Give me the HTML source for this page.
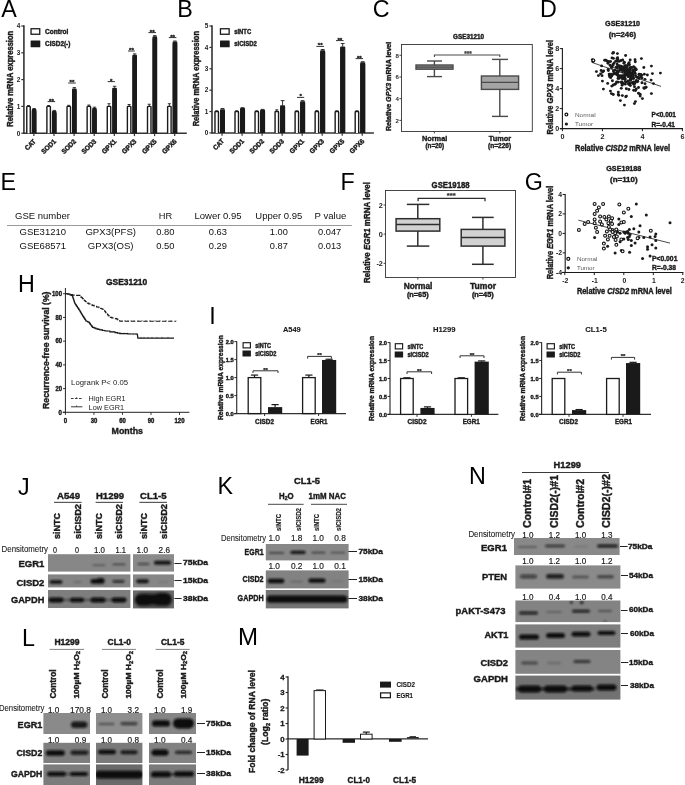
<!DOCTYPE html>
<html lang="en"><head><meta charset="utf-8"><title>Figure</title>
<style>
html,body{margin:0;padding:0;background:#fff;}
body{width:685px;height:785px;overflow:hidden;}
svg{display:block;font-family:"Liberation Sans", Arial, sans-serif;filter:blur(0.35px);}
</style></head><body>
<svg width="685" height="785" viewBox="0 0 685 785">
<rect width="685" height="785" fill="#fff"/>
<g fill="#1a1a1a">
<defs>
<filter id="b1" x="-20%" y="-50%" width="140%" height="200%"><feGaussianBlur stdDeviation="1.1"/></filter>
<filter id="b2" x="-20%" y="-50%" width="140%" height="200%"><feGaussianBlur stdDeviation="0.8"/></filter>
<filter id="b3" x="-20%" y="-50%" width="140%" height="200%"><feGaussianBlur stdDeviation="1.5"/></filter>
</defs>
<g id="A">
<text x="1.20" y="16.90" font-size="23.3" fill="#000">A</text>
<line x1="23.90" y1="25.30" x2="23.90" y2="133.90" stroke="#333" stroke-width="1.6" />
<line x1="23.50" y1="133.20" x2="186.80" y2="133.20" stroke="#333" stroke-width="1.5" />
<line x1="21.30" y1="133.20" x2="23.90" y2="133.20" stroke="#333" stroke-width="1.2" />
<text x="20.20" y="135.50" font-size="6.4" font-weight="bold" text-anchor="end">0</text>
<line x1="21.30" y1="106.40" x2="23.90" y2="106.40" stroke="#333" stroke-width="1.2" />
<text x="20.20" y="108.70" font-size="6.4" font-weight="bold" text-anchor="end">1</text>
<line x1="21.30" y1="79.60" x2="23.90" y2="79.60" stroke="#333" stroke-width="1.2" />
<text x="20.20" y="81.90" font-size="6.4" font-weight="bold" text-anchor="end">2</text>
<line x1="21.30" y1="52.80" x2="23.90" y2="52.80" stroke="#333" stroke-width="1.2" />
<text x="20.20" y="55.10" font-size="6.4" font-weight="bold" text-anchor="end">3</text>
<line x1="21.30" y1="26.00" x2="23.90" y2="26.00" stroke="#333" stroke-width="1.2" />
<text x="20.20" y="28.30" font-size="6.4" font-weight="bold" text-anchor="end">4</text>
<text x="13.20" y="78.80" font-size="8.2" font-weight="bold" text-anchor="middle" transform="rotate(-90 13.20 78.80)" textLength="96.00" lengthAdjust="spacingAndGlyphs" stroke="#1a1a1a" stroke-width="0.4">Relative mRNA expression</text>
<rect x="31.05" y="28.75" width="8.70" height="5.50" fill="#fff" stroke="#1a1a1a" stroke-width="1.3" />
<rect x="30.60" y="40.40" width="9.70" height="6.80" fill="#1a1a1a" rx="0.5"/>
<text x="45.00" y="34.20" font-size="7" font-weight="bold" textLength="23.40" lengthAdjust="spacingAndGlyphs" stroke="#1a1a1a" stroke-width="0.4">Control</text>
<text x="45.00" y="46.40" font-size="7" font-weight="bold" textLength="25.40" lengthAdjust="spacingAndGlyphs" stroke="#1a1a1a" stroke-width="0.4">CISD2(-)</text>
<line x1="28.50" y1="106.40" x2="28.50" y2="105.60" stroke="#1a1a1a" stroke-width="0.9" />
<line x1="27.00" y1="105.60" x2="30.00" y2="105.60" stroke="#1a1a1a" stroke-width="0.9" />
<path d="M26.78 133.20 V107.10 Q26.78 106.40 27.48 106.40 H29.56 Q30.26 106.40 30.26 107.10 V133.20" stroke="#1a1a1a" stroke-width="1.4" fill="#fff" />
<line x1="34.10" y1="109.08" x2="34.10" y2="108.54" stroke="#1a1a1a" stroke-width="0.9" />
<line x1="32.40" y1="108.54" x2="35.80" y2="108.54" stroke="#1a1a1a" stroke-width="0.9" />
<rect x="31.80" y="109.08" width="4.60" height="24.12" fill="#1a1a1a" rx="0.7"/>
<rect x="31.80" y="111.08" width="4.60" height="22.12" fill="#1a1a1a" />
<line x1="33.85" y1="133.20" x2="33.85" y2="136.10" stroke="#333" stroke-width="1.2" />
<text x="36.35" y="141.90" font-size="6.8" font-weight="bold" text-anchor="end" transform="rotate(-45 36.35 141.90)" textLength="12.50" lengthAdjust="spacingAndGlyphs" stroke="#1a1a1a" stroke-width="0.4">CAT</text>
<line x1="48.62" y1="106.40" x2="48.62" y2="105.60" stroke="#1a1a1a" stroke-width="0.9" />
<line x1="47.12" y1="105.60" x2="50.12" y2="105.60" stroke="#1a1a1a" stroke-width="0.9" />
<path d="M46.90 133.20 V107.10 Q46.90 106.40 47.60 106.40 H49.68 Q50.38 106.40 50.38 107.10 V133.20" stroke="#1a1a1a" stroke-width="1.4" fill="#fff" />
<line x1="54.22" y1="110.96" x2="54.22" y2="110.42" stroke="#1a1a1a" stroke-width="0.9" />
<line x1="52.52" y1="110.42" x2="55.92" y2="110.42" stroke="#1a1a1a" stroke-width="0.9" />
<rect x="51.92" y="110.96" width="4.60" height="22.24" fill="#1a1a1a" rx="0.7"/>
<rect x="51.92" y="112.96" width="4.60" height="20.24" fill="#1a1a1a" />
<line x1="53.97" y1="133.20" x2="53.97" y2="136.10" stroke="#333" stroke-width="1.2" />
<text x="56.47" y="141.90" font-size="6.8" font-weight="bold" text-anchor="end" transform="rotate(-45 56.47 141.90)" textLength="17.50" lengthAdjust="spacingAndGlyphs" stroke="#1a1a1a" stroke-width="0.4">SOD1</text>
<line x1="68.74" y1="106.40" x2="68.74" y2="105.33" stroke="#1a1a1a" stroke-width="0.9" />
<line x1="67.24" y1="105.33" x2="70.24" y2="105.33" stroke="#1a1a1a" stroke-width="0.9" />
<path d="M67.02 133.20 V107.10 Q67.02 106.40 67.72 106.40 H69.80 Q70.50 106.40 70.50 107.10 V133.20" stroke="#1a1a1a" stroke-width="1.4" fill="#fff" />
<line x1="74.34" y1="88.44" x2="74.34" y2="87.64" stroke="#1a1a1a" stroke-width="0.9" />
<line x1="72.64" y1="87.64" x2="76.04" y2="87.64" stroke="#1a1a1a" stroke-width="0.9" />
<rect x="72.04" y="88.44" width="4.60" height="44.76" fill="#1a1a1a" rx="0.7"/>
<rect x="72.04" y="90.44" width="4.60" height="42.76" fill="#1a1a1a" />
<line x1="74.09" y1="133.20" x2="74.09" y2="136.10" stroke="#333" stroke-width="1.2" />
<text x="76.59" y="141.90" font-size="6.8" font-weight="bold" text-anchor="end" transform="rotate(-45 76.59 141.90)" textLength="17.50" lengthAdjust="spacingAndGlyphs" stroke="#1a1a1a" stroke-width="0.4">SOD2</text>
<line x1="88.86" y1="106.40" x2="88.86" y2="105.06" stroke="#1a1a1a" stroke-width="0.9" />
<line x1="87.36" y1="105.06" x2="90.36" y2="105.06" stroke="#1a1a1a" stroke-width="0.9" />
<path d="M87.14 133.20 V107.10 Q87.14 106.40 87.84 106.40 H89.92 Q90.62 106.40 90.62 107.10 V133.20" stroke="#1a1a1a" stroke-width="1.4" fill="#fff" />
<line x1="94.46" y1="108.01" x2="94.46" y2="107.20" stroke="#1a1a1a" stroke-width="0.9" />
<line x1="92.76" y1="107.20" x2="96.16" y2="107.20" stroke="#1a1a1a" stroke-width="0.9" />
<rect x="92.16" y="108.01" width="4.60" height="25.19" fill="#1a1a1a" rx="0.7"/>
<rect x="92.16" y="110.01" width="4.60" height="23.19" fill="#1a1a1a" />
<line x1="94.21" y1="133.20" x2="94.21" y2="136.10" stroke="#333" stroke-width="1.2" />
<text x="96.71" y="141.90" font-size="6.8" font-weight="bold" text-anchor="end" transform="rotate(-45 96.71 141.90)" textLength="17.50" lengthAdjust="spacingAndGlyphs" stroke="#1a1a1a" stroke-width="0.4">SOD3</text>
<line x1="108.98" y1="106.40" x2="108.98" y2="103.72" stroke="#1a1a1a" stroke-width="0.9" />
<line x1="107.48" y1="103.72" x2="110.48" y2="103.72" stroke="#1a1a1a" stroke-width="0.9" />
<path d="M107.26 133.20 V107.10 Q107.26 106.40 107.96 106.40 H110.04 Q110.74 106.40 110.74 107.10 V133.20" stroke="#1a1a1a" stroke-width="1.4" fill="#fff" />
<line x1="114.58" y1="87.64" x2="114.58" y2="86.30" stroke="#1a1a1a" stroke-width="0.9" />
<line x1="112.88" y1="86.30" x2="116.28" y2="86.30" stroke="#1a1a1a" stroke-width="0.9" />
<rect x="112.28" y="87.64" width="4.60" height="45.56" fill="#1a1a1a" rx="0.7"/>
<rect x="112.28" y="89.64" width="4.60" height="43.56" fill="#1a1a1a" />
<line x1="114.33" y1="133.20" x2="114.33" y2="136.10" stroke="#333" stroke-width="1.2" />
<text x="116.83" y="141.90" font-size="6.8" font-weight="bold" text-anchor="end" transform="rotate(-45 116.83 141.90)" textLength="17.50" lengthAdjust="spacingAndGlyphs" stroke="#1a1a1a" stroke-width="0.4">GPX1</text>
<line x1="129.10" y1="106.40" x2="129.10" y2="104.52" stroke="#1a1a1a" stroke-width="0.9" />
<line x1="127.60" y1="104.52" x2="130.60" y2="104.52" stroke="#1a1a1a" stroke-width="0.9" />
<path d="M127.38 133.20 V107.10 Q127.38 106.40 128.08 106.40 H130.16 Q130.86 106.40 130.86 107.10 V133.20" stroke="#1a1a1a" stroke-width="1.4" fill="#fff" />
<line x1="134.70" y1="54.68" x2="134.70" y2="53.87" stroke="#1a1a1a" stroke-width="0.9" />
<line x1="133.00" y1="53.87" x2="136.40" y2="53.87" stroke="#1a1a1a" stroke-width="0.9" />
<rect x="132.40" y="54.68" width="4.60" height="78.52" fill="#1a1a1a" rx="0.7"/>
<rect x="132.40" y="56.68" width="4.60" height="76.52" fill="#1a1a1a" />
<line x1="134.45" y1="133.20" x2="134.45" y2="136.10" stroke="#333" stroke-width="1.2" />
<text x="136.95" y="141.90" font-size="6.8" font-weight="bold" text-anchor="end" transform="rotate(-45 136.95 141.90)" textLength="17.50" lengthAdjust="spacingAndGlyphs" stroke="#1a1a1a" stroke-width="0.4">GPX3</text>
<line x1="149.22" y1="106.40" x2="149.22" y2="104.26" stroke="#1a1a1a" stroke-width="0.9" />
<line x1="147.72" y1="104.26" x2="150.72" y2="104.26" stroke="#1a1a1a" stroke-width="0.9" />
<path d="M147.50 133.20 V107.10 Q147.50 106.40 148.20 106.40 H150.28 Q150.98 106.40 150.98 107.10 V133.20" stroke="#1a1a1a" stroke-width="1.4" fill="#fff" />
<line x1="154.82" y1="36.18" x2="154.82" y2="35.65" stroke="#1a1a1a" stroke-width="0.9" />
<line x1="153.12" y1="35.65" x2="156.52" y2="35.65" stroke="#1a1a1a" stroke-width="0.9" />
<rect x="152.52" y="36.18" width="4.60" height="97.02" fill="#1a1a1a" rx="0.7"/>
<rect x="152.52" y="38.18" width="4.60" height="95.02" fill="#1a1a1a" />
<line x1="154.57" y1="133.20" x2="154.57" y2="136.10" stroke="#333" stroke-width="1.2" />
<text x="157.07" y="141.90" font-size="6.8" font-weight="bold" text-anchor="end" transform="rotate(-45 157.07 141.90)" textLength="17.50" lengthAdjust="spacingAndGlyphs" stroke="#1a1a1a" stroke-width="0.4">GPX5</text>
<line x1="169.34" y1="106.40" x2="169.34" y2="103.72" stroke="#1a1a1a" stroke-width="0.9" />
<line x1="167.84" y1="103.72" x2="170.84" y2="103.72" stroke="#1a1a1a" stroke-width="0.9" />
<path d="M167.62 133.20 V107.10 Q167.62 106.40 168.32 106.40 H170.40 Q171.10 106.40 171.10 107.10 V133.20" stroke="#1a1a1a" stroke-width="1.4" fill="#fff" />
<line x1="174.94" y1="41.54" x2="174.94" y2="41.01" stroke="#1a1a1a" stroke-width="0.9" />
<line x1="173.24" y1="41.01" x2="176.64" y2="41.01" stroke="#1a1a1a" stroke-width="0.9" />
<rect x="172.64" y="41.54" width="4.60" height="91.66" fill="#1a1a1a" rx="0.7"/>
<rect x="172.64" y="43.54" width="4.60" height="89.66" fill="#1a1a1a" />
<line x1="174.69" y1="133.20" x2="174.69" y2="136.10" stroke="#333" stroke-width="1.2" />
<text x="177.19" y="141.90" font-size="6.8" font-weight="bold" text-anchor="end" transform="rotate(-45 177.19 141.90)" textLength="17.50" lengthAdjust="spacingAndGlyphs" stroke="#1a1a1a" stroke-width="0.4">GPX6</text>
<line x1="47.60" y1="101.60" x2="55.20" y2="101.60" stroke="#1a1a1a" stroke-width="0.9" />
<text x="51.40" y="102.50" font-size="6.2" font-weight="bold" text-anchor="middle" stroke="#1a1a1a" stroke-width="0.3">**</text>
<line x1="68.20" y1="83.00" x2="75.80" y2="83.00" stroke="#1a1a1a" stroke-width="0.9" />
<text x="72.00" y="83.90" font-size="6.2" font-weight="bold" text-anchor="middle" stroke="#1a1a1a" stroke-width="0.3">**</text>
<line x1="107.60" y1="81.60" x2="114.80" y2="81.60" stroke="#1a1a1a" stroke-width="0.9" />
<text x="111.20" y="82.50" font-size="6.2" font-weight="bold" text-anchor="middle" stroke="#1a1a1a" stroke-width="0.3">*</text>
<line x1="128.00" y1="51.00" x2="134.80" y2="51.00" stroke="#1a1a1a" stroke-width="0.9" />
<text x="131.40" y="51.90" font-size="6.2" font-weight="bold" text-anchor="middle" stroke="#1a1a1a" stroke-width="0.3">**</text>
<line x1="148.40" y1="32.60" x2="156.00" y2="32.60" stroke="#1a1a1a" stroke-width="0.9" />
<text x="152.20" y="33.50" font-size="6.2" font-weight="bold" text-anchor="middle" stroke="#1a1a1a" stroke-width="0.3">**</text>
<line x1="168.80" y1="37.60" x2="176.40" y2="37.60" stroke="#1a1a1a" stroke-width="0.9" />
<text x="172.60" y="38.50" font-size="6.2" font-weight="bold" text-anchor="middle" stroke="#1a1a1a" stroke-width="0.3">**</text>
</g>
<g id="B">
<text x="177.20" y="17.00" font-size="23.3" fill="#000">B</text>
<line x1="212.00" y1="25.30" x2="212.00" y2="133.60" stroke="#333" stroke-width="1.6" />
<line x1="211.60" y1="132.90" x2="373.90" y2="132.90" stroke="#333" stroke-width="1.5" />
<line x1="209.40" y1="132.90" x2="212.00" y2="132.90" stroke="#333" stroke-width="1.2" />
<text x="208.30" y="135.20" font-size="6.4" font-weight="bold" text-anchor="end">0</text>
<line x1="209.40" y1="111.53" x2="212.00" y2="111.53" stroke="#333" stroke-width="1.2" />
<text x="208.30" y="113.83" font-size="6.4" font-weight="bold" text-anchor="end">1</text>
<line x1="209.40" y1="90.16" x2="212.00" y2="90.16" stroke="#333" stroke-width="1.2" />
<text x="208.30" y="92.46" font-size="6.4" font-weight="bold" text-anchor="end">2</text>
<line x1="209.40" y1="68.79" x2="212.00" y2="68.79" stroke="#333" stroke-width="1.2" />
<text x="208.30" y="71.09" font-size="6.4" font-weight="bold" text-anchor="end">3</text>
<line x1="209.40" y1="47.42" x2="212.00" y2="47.42" stroke="#333" stroke-width="1.2" />
<text x="208.30" y="49.72" font-size="6.4" font-weight="bold" text-anchor="end">4</text>
<line x1="209.40" y1="26.05" x2="212.00" y2="26.05" stroke="#333" stroke-width="1.2" />
<text x="208.30" y="28.35" font-size="6.4" font-weight="bold" text-anchor="end">5</text>
<text x="198.60" y="78.65" font-size="8.2" font-weight="bold" text-anchor="middle" transform="rotate(-90 198.60 78.65)" textLength="95.40" lengthAdjust="spacingAndGlyphs" stroke="#1a1a1a" stroke-width="0.4">Relative mRNA expression</text>
<rect x="220.45" y="28.75" width="8.70" height="5.50" fill="#fff" stroke="#1a1a1a" stroke-width="1.3" />
<rect x="220.00" y="40.40" width="9.70" height="6.80" fill="#1a1a1a" rx="0.5"/>
<text x="234.20" y="34.20" font-size="7" font-weight="bold" textLength="17.00" lengthAdjust="spacingAndGlyphs" stroke="#1a1a1a" stroke-width="0.4">siNTC</text>
<text x="234.20" y="46.40" font-size="7" font-weight="bold" textLength="22.60" lengthAdjust="spacingAndGlyphs" stroke="#1a1a1a" stroke-width="0.4">siCISD2</text>
<line x1="216.70" y1="111.53" x2="216.70" y2="110.89" stroke="#1a1a1a" stroke-width="0.9" />
<line x1="215.20" y1="110.89" x2="218.20" y2="110.89" stroke="#1a1a1a" stroke-width="0.9" />
<path d="M214.98 132.90 V112.23 Q214.98 111.53 215.68 111.53 H217.76 Q218.46 111.53 218.46 112.23 V132.90" stroke="#1a1a1a" stroke-width="1.4" fill="#fff" />
<line x1="222.50" y1="109.18" x2="222.50" y2="108.54" stroke="#1a1a1a" stroke-width="0.9" />
<line x1="220.60" y1="108.54" x2="224.40" y2="108.54" stroke="#1a1a1a" stroke-width="0.9" />
<rect x="220.00" y="109.18" width="5.00" height="23.72" fill="#1a1a1a" rx="0.7"/>
<rect x="220.00" y="111.18" width="5.00" height="21.72" fill="#1a1a1a" />
<line x1="222.05" y1="132.90" x2="222.05" y2="135.80" stroke="#333" stroke-width="1.2" />
<text x="224.55" y="141.60" font-size="6.8" font-weight="bold" text-anchor="end" transform="rotate(-45 224.55 141.60)" textLength="12.50" lengthAdjust="spacingAndGlyphs" stroke="#1a1a1a" stroke-width="0.4">CAT</text>
<line x1="236.73" y1="111.53" x2="236.73" y2="110.89" stroke="#1a1a1a" stroke-width="0.9" />
<line x1="235.23" y1="110.89" x2="238.23" y2="110.89" stroke="#1a1a1a" stroke-width="0.9" />
<path d="M235.01 132.90 V112.23 Q235.01 111.53 235.71 111.53 H237.79 Q238.49 111.53 238.49 112.23 V132.90" stroke="#1a1a1a" stroke-width="1.4" fill="#fff" />
<line x1="242.53" y1="108.11" x2="242.53" y2="107.68" stroke="#1a1a1a" stroke-width="0.9" />
<line x1="240.63" y1="107.68" x2="244.43" y2="107.68" stroke="#1a1a1a" stroke-width="0.9" />
<rect x="240.03" y="108.11" width="5.00" height="24.79" fill="#1a1a1a" rx="0.7"/>
<rect x="240.03" y="110.11" width="5.00" height="22.79" fill="#1a1a1a" />
<line x1="242.08" y1="132.90" x2="242.08" y2="135.80" stroke="#333" stroke-width="1.2" />
<text x="244.58" y="141.60" font-size="6.8" font-weight="bold" text-anchor="end" transform="rotate(-45 244.58 141.60)" textLength="17.50" lengthAdjust="spacingAndGlyphs" stroke="#1a1a1a" stroke-width="0.4">SOD1</text>
<line x1="256.76" y1="111.53" x2="256.76" y2="110.89" stroke="#1a1a1a" stroke-width="0.9" />
<line x1="255.26" y1="110.89" x2="258.26" y2="110.89" stroke="#1a1a1a" stroke-width="0.9" />
<path d="M255.04 132.90 V112.23 Q255.04 111.53 255.74 111.53 H257.82 Q258.52 111.53 258.52 112.23 V132.90" stroke="#1a1a1a" stroke-width="1.4" fill="#fff" />
<line x1="262.56" y1="109.82" x2="262.56" y2="109.39" stroke="#1a1a1a" stroke-width="0.9" />
<line x1="260.66" y1="109.39" x2="264.46" y2="109.39" stroke="#1a1a1a" stroke-width="0.9" />
<rect x="260.06" y="109.82" width="5.00" height="23.08" fill="#1a1a1a" rx="0.7"/>
<rect x="260.06" y="111.82" width="5.00" height="21.08" fill="#1a1a1a" />
<line x1="262.11" y1="132.90" x2="262.11" y2="135.80" stroke="#333" stroke-width="1.2" />
<text x="264.61" y="141.60" font-size="6.8" font-weight="bold" text-anchor="end" transform="rotate(-45 264.61 141.60)" textLength="17.50" lengthAdjust="spacingAndGlyphs" stroke="#1a1a1a" stroke-width="0.4">SOD2</text>
<line x1="276.79" y1="111.53" x2="276.79" y2="109.82" stroke="#1a1a1a" stroke-width="0.9" />
<line x1="275.29" y1="109.82" x2="278.29" y2="109.82" stroke="#1a1a1a" stroke-width="0.9" />
<path d="M275.07 132.90 V112.23 Q275.07 111.53 275.77 111.53 H277.85 Q278.55 111.53 278.55 112.23 V132.90" stroke="#1a1a1a" stroke-width="1.4" fill="#fff" />
<line x1="282.59" y1="105.33" x2="282.59" y2="100.63" stroke="#1a1a1a" stroke-width="0.9" />
<line x1="280.69" y1="100.63" x2="284.49" y2="100.63" stroke="#1a1a1a" stroke-width="0.9" />
<rect x="280.09" y="105.33" width="5.00" height="27.57" fill="#1a1a1a" rx="0.7"/>
<rect x="280.09" y="107.33" width="5.00" height="25.57" fill="#1a1a1a" />
<line x1="282.14" y1="132.90" x2="282.14" y2="135.80" stroke="#333" stroke-width="1.2" />
<text x="284.64" y="141.60" font-size="6.8" font-weight="bold" text-anchor="end" transform="rotate(-45 284.64 141.60)" textLength="17.50" lengthAdjust="spacingAndGlyphs" stroke="#1a1a1a" stroke-width="0.4">SOD3</text>
<line x1="296.82" y1="111.53" x2="296.82" y2="110.89" stroke="#1a1a1a" stroke-width="0.9" />
<line x1="295.32" y1="110.89" x2="298.32" y2="110.89" stroke="#1a1a1a" stroke-width="0.9" />
<path d="M295.10 132.90 V112.23 Q295.10 111.53 295.80 111.53 H297.88 Q298.58 111.53 298.58 112.23 V132.90" stroke="#1a1a1a" stroke-width="1.4" fill="#fff" />
<line x1="302.62" y1="101.27" x2="302.62" y2="100.63" stroke="#1a1a1a" stroke-width="0.9" />
<line x1="300.72" y1="100.63" x2="304.52" y2="100.63" stroke="#1a1a1a" stroke-width="0.9" />
<rect x="300.12" y="101.27" width="5.00" height="31.63" fill="#1a1a1a" rx="0.7"/>
<rect x="300.12" y="103.27" width="5.00" height="29.63" fill="#1a1a1a" />
<line x1="302.17" y1="132.90" x2="302.17" y2="135.80" stroke="#333" stroke-width="1.2" />
<text x="304.67" y="141.60" font-size="6.8" font-weight="bold" text-anchor="end" transform="rotate(-45 304.67 141.60)" textLength="17.50" lengthAdjust="spacingAndGlyphs" stroke="#1a1a1a" stroke-width="0.4">GPX1</text>
<line x1="316.85" y1="111.53" x2="316.85" y2="110.68" stroke="#1a1a1a" stroke-width="0.9" />
<line x1="315.35" y1="110.68" x2="318.35" y2="110.68" stroke="#1a1a1a" stroke-width="0.9" />
<path d="M315.13 132.90 V112.23 Q315.13 111.53 315.83 111.53 H317.91 Q318.61 111.53 318.61 112.23 V132.90" stroke="#1a1a1a" stroke-width="1.4" fill="#fff" />
<line x1="322.65" y1="50.20" x2="322.65" y2="49.56" stroke="#1a1a1a" stroke-width="0.9" />
<line x1="320.75" y1="49.56" x2="324.55" y2="49.56" stroke="#1a1a1a" stroke-width="0.9" />
<rect x="320.15" y="50.20" width="5.00" height="82.70" fill="#1a1a1a" rx="0.7"/>
<rect x="320.15" y="52.20" width="5.00" height="80.70" fill="#1a1a1a" />
<line x1="322.20" y1="132.90" x2="322.20" y2="135.80" stroke="#333" stroke-width="1.2" />
<text x="324.70" y="141.60" font-size="6.8" font-weight="bold" text-anchor="end" transform="rotate(-45 324.70 141.60)" textLength="17.50" lengthAdjust="spacingAndGlyphs" stroke="#1a1a1a" stroke-width="0.4">GPX3</text>
<line x1="336.88" y1="111.53" x2="336.88" y2="110.89" stroke="#1a1a1a" stroke-width="0.9" />
<line x1="335.38" y1="110.89" x2="338.38" y2="110.89" stroke="#1a1a1a" stroke-width="0.9" />
<path d="M335.16 132.90 V112.23 Q335.16 111.53 335.86 111.53 H337.94 Q338.64 111.53 338.64 112.23 V132.90" stroke="#1a1a1a" stroke-width="1.4" fill="#fff" />
<line x1="342.68" y1="46.57" x2="342.68" y2="43.57" stroke="#1a1a1a" stroke-width="0.9" />
<line x1="340.78" y1="43.57" x2="344.58" y2="43.57" stroke="#1a1a1a" stroke-width="0.9" />
<rect x="340.18" y="46.57" width="5.00" height="86.33" fill="#1a1a1a" rx="0.7"/>
<rect x="340.18" y="48.57" width="5.00" height="84.33" fill="#1a1a1a" />
<line x1="342.23" y1="132.90" x2="342.23" y2="135.80" stroke="#333" stroke-width="1.2" />
<text x="344.73" y="141.60" font-size="6.8" font-weight="bold" text-anchor="end" transform="rotate(-45 344.73 141.60)" textLength="17.50" lengthAdjust="spacingAndGlyphs" stroke="#1a1a1a" stroke-width="0.4">GPX5</text>
<line x1="356.91" y1="111.53" x2="356.91" y2="110.89" stroke="#1a1a1a" stroke-width="0.9" />
<line x1="355.41" y1="110.89" x2="358.41" y2="110.89" stroke="#1a1a1a" stroke-width="0.9" />
<path d="M355.19 132.90 V112.23 Q355.19 111.53 355.89 111.53 H357.97 Q358.67 111.53 358.67 112.23 V132.90" stroke="#1a1a1a" stroke-width="1.4" fill="#fff" />
<line x1="362.71" y1="62.17" x2="362.71" y2="61.74" stroke="#1a1a1a" stroke-width="0.9" />
<line x1="360.81" y1="61.74" x2="364.61" y2="61.74" stroke="#1a1a1a" stroke-width="0.9" />
<rect x="360.21" y="62.17" width="5.00" height="70.73" fill="#1a1a1a" rx="0.7"/>
<rect x="360.21" y="64.17" width="5.00" height="68.73" fill="#1a1a1a" />
<line x1="362.26" y1="132.90" x2="362.26" y2="135.80" stroke="#333" stroke-width="1.2" />
<text x="364.76" y="141.60" font-size="6.8" font-weight="bold" text-anchor="end" transform="rotate(-45 364.76 141.60)" textLength="17.50" lengthAdjust="spacingAndGlyphs" stroke="#1a1a1a" stroke-width="0.4">GPX6</text>
<line x1="297.00" y1="97.40" x2="304.20" y2="97.40" stroke="#1a1a1a" stroke-width="0.9" />
<text x="300.60" y="98.30" font-size="6.2" font-weight="bold" text-anchor="middle" stroke="#1a1a1a" stroke-width="0.3">*</text>
<line x1="316.40" y1="46.40" x2="324.00" y2="46.40" stroke="#1a1a1a" stroke-width="0.9" />
<text x="320.20" y="47.30" font-size="6.2" font-weight="bold" text-anchor="middle" stroke="#1a1a1a" stroke-width="0.3">**</text>
<line x1="336.00" y1="40.60" x2="343.60" y2="40.60" stroke="#1a1a1a" stroke-width="0.9" />
<text x="339.80" y="41.50" font-size="6.2" font-weight="bold" text-anchor="middle" stroke="#1a1a1a" stroke-width="0.3">**</text>
<line x1="355.60" y1="58.60" x2="363.00" y2="58.60" stroke="#1a1a1a" stroke-width="0.9" />
<text x="359.30" y="59.50" font-size="6.2" font-weight="bold" text-anchor="middle" stroke="#1a1a1a" stroke-width="0.3">**</text>
</g>
<g id="C">
<text x="372.80" y="17.00" font-size="23.3" fill="#000">C</text>
<rect x="401.50" y="44.50" width="130.80" height="87.00" fill="none" stroke="#333" stroke-width="0.9" />
<line x1="399.40" y1="55.30" x2="401.50" y2="55.30" stroke="#333" stroke-width="0.9" />
<text x="398.80" y="57.50" font-size="6.1" font-weight="bold" text-anchor="end" fill="#2a2a2a">8</text>
<line x1="399.40" y1="77.00" x2="401.50" y2="77.00" stroke="#333" stroke-width="0.9" />
<text x="398.80" y="79.20" font-size="6.1" font-weight="bold" text-anchor="end" fill="#2a2a2a">6</text>
<line x1="399.40" y1="98.70" x2="401.50" y2="98.70" stroke="#333" stroke-width="0.9" />
<text x="398.80" y="100.90" font-size="6.1" font-weight="bold" text-anchor="end" fill="#2a2a2a">4</text>
<line x1="399.40" y1="120.40" x2="401.50" y2="120.40" stroke="#333" stroke-width="0.9" />
<text x="398.80" y="122.60" font-size="6.1" font-weight="bold" text-anchor="end" fill="#2a2a2a">2</text>
<text x="391.20" y="86.40" font-size="8" font-weight="bold" text-anchor="middle" transform="rotate(-90 391.20 86.40)" textLength="89.40" lengthAdjust="spacingAndGlyphs" stroke="#1a1a1a" stroke-width="0.4">Relative <tspan font-style="italic">GPX3</tspan> mRNA level</text>
<text x="468.50" y="39.20" font-size="6.6" font-weight="bold" text-anchor="middle" textLength="31.00" lengthAdjust="spacingAndGlyphs" stroke="#1a1a1a" stroke-width="0.4">GSE31210</text>
<line x1="434.40" y1="61.00" x2="434.40" y2="76.60" stroke="#4a4a4a" stroke-width="1.4" />
<line x1="427.00" y1="61.00" x2="442.00" y2="61.00" stroke="#4a4a4a" stroke-width="1.4" />
<line x1="427.00" y1="76.60" x2="442.00" y2="76.60" stroke="#4a4a4a" stroke-width="1.4" />
<rect x="416.00" y="65.00" width="37.00" height="4.20" fill="#8c8c8c" stroke="#4a4a4a" stroke-width="1.4" />
<line x1="416.00" y1="67.10" x2="453.00" y2="67.10" stroke="#4a4a4a" stroke-width="1.4" />
<line x1="499.80" y1="59.40" x2="499.80" y2="116.40" stroke="#4a4a4a" stroke-width="1.4" />
<line x1="492.00" y1="59.40" x2="508.00" y2="59.40" stroke="#4a4a4a" stroke-width="1.4" />
<line x1="492.00" y1="116.40" x2="508.00" y2="116.40" stroke="#4a4a4a" stroke-width="1.4" />
<rect x="481.40" y="76.00" width="37.20" height="13.40" fill="#a4a4a4" stroke="#4a4a4a" stroke-width="1.4" />
<line x1="481.40" y1="82.40" x2="518.60" y2="82.40" stroke="#4a4a4a" stroke-width="1.4" />
<path d="M434.4 57 V55 H499.8 V57" stroke="#4a4a4a" stroke-width="1.1" fill="none" />
<text x="468.00" y="55.60" font-size="6.4" font-weight="bold" text-anchor="middle" fill="#3a3a3a" stroke="#3a3a3a" stroke-width="0.2">***</text>
<line x1="434.40" y1="131.40" x2="434.40" y2="133.40" stroke="#3a3a3a" stroke-width="0.9" />
<line x1="499.80" y1="131.40" x2="499.80" y2="133.40" stroke="#3a3a3a" stroke-width="0.9" />
<text x="434.60" y="140.60" font-size="8" font-weight="bold" text-anchor="middle" textLength="25.40" lengthAdjust="spacingAndGlyphs" stroke="#1a1a1a" stroke-width="0.4">Normal</text>
<text x="434.80" y="147.80" font-size="6.6" font-weight="bold" text-anchor="middle" textLength="18.60" lengthAdjust="spacingAndGlyphs" stroke="#1a1a1a" stroke-width="0.4">(n=20)</text>
<text x="500.00" y="140.60" font-size="8" font-weight="bold" text-anchor="middle" textLength="22.40" lengthAdjust="spacingAndGlyphs" stroke="#1a1a1a" stroke-width="0.4">Tumor</text>
<text x="499.60" y="147.80" font-size="6.6" font-weight="bold" text-anchor="middle" textLength="23.00" lengthAdjust="spacingAndGlyphs" stroke="#1a1a1a" stroke-width="0.4">(n=226)</text>
</g>
<g id="D">
<text x="540.10" y="17.00" font-size="23.3" fill="#000">D</text>
<line x1="562.40" y1="48.10" x2="562.40" y2="129.10" stroke="#1a1a1a" stroke-width="1.1" />
<line x1="560.00" y1="128.60" x2="683.00" y2="128.60" stroke="#1a1a1a" stroke-width="1.1" />
<line x1="559.80" y1="128.60" x2="562.40" y2="128.60" stroke="#1a1a1a" stroke-width="1" />
<text x="559.20" y="131.10" font-size="7.2" font-weight="bold" text-anchor="end">0</text>
<line x1="559.80" y1="108.60" x2="562.40" y2="108.60" stroke="#1a1a1a" stroke-width="1" />
<text x="559.20" y="111.10" font-size="7.2" font-weight="bold" text-anchor="end">2</text>
<line x1="559.80" y1="88.60" x2="562.40" y2="88.60" stroke="#1a1a1a" stroke-width="1" />
<text x="559.20" y="91.10" font-size="7.2" font-weight="bold" text-anchor="end">4</text>
<line x1="559.80" y1="68.60" x2="562.40" y2="68.60" stroke="#1a1a1a" stroke-width="1" />
<text x="559.20" y="71.10" font-size="7.2" font-weight="bold" text-anchor="end">6</text>
<line x1="559.80" y1="48.60" x2="562.40" y2="48.60" stroke="#1a1a1a" stroke-width="1" />
<text x="559.20" y="51.10" font-size="7.2" font-weight="bold" text-anchor="end">8</text>
<line x1="562.40" y1="128.60" x2="562.40" y2="131.20" stroke="#1a1a1a" stroke-width="1" />
<text x="562.40" y="139.20" font-size="7.2" font-weight="bold" text-anchor="middle">0</text>
<line x1="602.40" y1="128.60" x2="602.40" y2="131.20" stroke="#1a1a1a" stroke-width="1" />
<text x="602.40" y="139.20" font-size="7.2" font-weight="bold" text-anchor="middle">2</text>
<line x1="642.40" y1="128.60" x2="642.40" y2="131.20" stroke="#1a1a1a" stroke-width="1" />
<text x="642.40" y="139.20" font-size="7.2" font-weight="bold" text-anchor="middle">4</text>
<line x1="682.40" y1="128.60" x2="682.40" y2="131.20" stroke="#1a1a1a" stroke-width="1" />
<text x="682.40" y="139.20" font-size="7.2" font-weight="bold" text-anchor="middle">6</text>
<text x="552.80" y="87.20" font-size="8.6" font-weight="bold" text-anchor="middle" transform="rotate(-90 552.80 87.20)" textLength="94.40" lengthAdjust="spacingAndGlyphs" stroke="#1a1a1a" stroke-width="0.4">Relative <tspan font-style="italic">GPX3</tspan> mRNA level</text>
<text x="622.60" y="26.20" font-size="8" font-weight="bold" text-anchor="middle" textLength="35.00" lengthAdjust="spacingAndGlyphs" stroke="#1a1a1a" stroke-width="0.4">GSE31210</text>
<text x="622.40" y="36.80" font-size="8" font-weight="bold" text-anchor="middle" textLength="27.40" lengthAdjust="spacingAndGlyphs" stroke="#1a1a1a" stroke-width="0.4">(n=246)</text>
<text x="622.60" y="151.00" font-size="8.6" font-weight="bold" text-anchor="middle" textLength="95.00" lengthAdjust="spacingAndGlyphs" stroke="#1a1a1a" stroke-width="0.4">Relative <tspan font-style="italic">CISD2</tspan> mRNA level</text>
<text x="651.60" y="117.20" font-size="7.4" font-weight="bold" textLength="24.40" lengthAdjust="spacingAndGlyphs" stroke="#1a1a1a" stroke-width="0.4">P&lt;0.001</text>
<text x="651.60" y="126.60" font-size="7.4" font-weight="bold" textLength="23.40" lengthAdjust="spacingAndGlyphs" stroke="#1a1a1a" stroke-width="0.4">R=-0.41</text>
<circle cx="566.40" cy="114.60" r="1.4" fill="#fff" stroke="#111" stroke-width="1.2"/>
<circle cx="566.40" cy="124.00" r="1.6" fill="#1a1a1a"/>
<text x="575.00" y="116.60" font-size="6" fill="#5a5a5a" textLength="20.60" lengthAdjust="spacingAndGlyphs">Normal</text>
<text x="575.00" y="125.80" font-size="6" fill="#5a5a5a" textLength="18.00" lengthAdjust="spacingAndGlyphs">Tumor</text>
<circle cx="613.12" cy="65.09" r="1.45" fill="#1a1a1a"/>
<circle cx="631.76" cy="76.22" r="1.45" fill="#1a1a1a"/>
<circle cx="612.24" cy="67.25" r="1.45" fill="#1a1a1a"/>
<circle cx="627.42" cy="65.85" r="1.45" fill="#1a1a1a"/>
<circle cx="613.19" cy="74.37" r="1.45" fill="#1a1a1a"/>
<circle cx="629.33" cy="69.94" r="1.45" fill="#1a1a1a"/>
<circle cx="636.28" cy="69.44" r="1.45" fill="#1a1a1a"/>
<circle cx="622.55" cy="71.83" r="1.45" fill="#1a1a1a"/>
<circle cx="644.99" cy="79.37" r="1.45" fill="#1a1a1a"/>
<circle cx="616.81" cy="74.71" r="1.45" fill="#1a1a1a"/>
<circle cx="624.20" cy="70.06" r="1.45" fill="#1a1a1a"/>
<circle cx="620.50" cy="69.98" r="1.45" fill="#1a1a1a"/>
<circle cx="625.69" cy="67.53" r="1.45" fill="#1a1a1a"/>
<circle cx="632.61" cy="72.50" r="1.45" fill="#1a1a1a"/>
<circle cx="608.37" cy="61.72" r="1.45" fill="#1a1a1a"/>
<circle cx="611.47" cy="67.59" r="1.45" fill="#1a1a1a"/>
<circle cx="611.02" cy="66.48" r="1.45" fill="#1a1a1a"/>
<circle cx="616.86" cy="67.24" r="1.45" fill="#1a1a1a"/>
<circle cx="651.12" cy="80.08" r="1.45" fill="#1a1a1a"/>
<circle cx="630.48" cy="80.28" r="1.45" fill="#1a1a1a"/>
<circle cx="620.98" cy="66.13" r="1.45" fill="#1a1a1a"/>
<circle cx="622.62" cy="68.29" r="1.45" fill="#1a1a1a"/>
<circle cx="624.27" cy="76.46" r="1.45" fill="#1a1a1a"/>
<circle cx="628.14" cy="76.67" r="1.45" fill="#1a1a1a"/>
<circle cx="639.12" cy="78.62" r="1.45" fill="#1a1a1a"/>
<circle cx="629.16" cy="72.50" r="1.45" fill="#1a1a1a"/>
<circle cx="631.40" cy="76.59" r="1.45" fill="#1a1a1a"/>
<circle cx="631.79" cy="74.07" r="1.45" fill="#1a1a1a"/>
<circle cx="634.01" cy="70.67" r="1.45" fill="#1a1a1a"/>
<circle cx="624.59" cy="75.31" r="1.45" fill="#1a1a1a"/>
<circle cx="629.85" cy="70.15" r="1.45" fill="#1a1a1a"/>
<circle cx="637.19" cy="77.27" r="1.45" fill="#1a1a1a"/>
<circle cx="628.06" cy="69.34" r="1.45" fill="#1a1a1a"/>
<circle cx="625.78" cy="70.24" r="1.45" fill="#1a1a1a"/>
<circle cx="624.93" cy="74.42" r="1.45" fill="#1a1a1a"/>
<circle cx="614.88" cy="69.96" r="1.45" fill="#1a1a1a"/>
<circle cx="628.36" cy="63.88" r="1.45" fill="#1a1a1a"/>
<circle cx="631.61" cy="67.49" r="1.45" fill="#1a1a1a"/>
<circle cx="629.93" cy="68.90" r="1.45" fill="#1a1a1a"/>
<circle cx="624.94" cy="66.84" r="1.45" fill="#1a1a1a"/>
<circle cx="638.30" cy="77.36" r="1.45" fill="#1a1a1a"/>
<circle cx="617.57" cy="57.81" r="1.45" fill="#1a1a1a"/>
<circle cx="625.46" cy="65.91" r="1.45" fill="#1a1a1a"/>
<circle cx="630.74" cy="79.33" r="1.45" fill="#1a1a1a"/>
<circle cx="643.84" cy="67.56" r="1.45" fill="#1a1a1a"/>
<circle cx="624.89" cy="66.93" r="1.45" fill="#1a1a1a"/>
<circle cx="624.47" cy="75.85" r="1.45" fill="#1a1a1a"/>
<circle cx="622.46" cy="68.22" r="1.45" fill="#1a1a1a"/>
<circle cx="632.77" cy="69.79" r="1.45" fill="#1a1a1a"/>
<circle cx="623.90" cy="63.26" r="1.45" fill="#1a1a1a"/>
<circle cx="617.01" cy="64.09" r="1.45" fill="#1a1a1a"/>
<circle cx="632.74" cy="75.32" r="1.45" fill="#1a1a1a"/>
<circle cx="608.36" cy="70.62" r="1.45" fill="#1a1a1a"/>
<circle cx="625.39" cy="68.34" r="1.45" fill="#1a1a1a"/>
<circle cx="636.40" cy="80.48" r="1.45" fill="#1a1a1a"/>
<circle cx="623.42" cy="67.01" r="1.45" fill="#1a1a1a"/>
<circle cx="622.08" cy="83.28" r="1.45" fill="#1a1a1a"/>
<circle cx="630.17" cy="60.05" r="1.45" fill="#1a1a1a"/>
<circle cx="631.84" cy="78.48" r="1.45" fill="#1a1a1a"/>
<circle cx="619.94" cy="68.22" r="1.45" fill="#1a1a1a"/>
<circle cx="644.31" cy="74.13" r="1.45" fill="#1a1a1a"/>
<circle cx="624.35" cy="62.29" r="1.45" fill="#1a1a1a"/>
<circle cx="622.71" cy="60.07" r="1.45" fill="#1a1a1a"/>
<circle cx="617.65" cy="71.32" r="1.45" fill="#1a1a1a"/>
<circle cx="629.46" cy="64.72" r="1.45" fill="#1a1a1a"/>
<circle cx="628.89" cy="70.75" r="1.45" fill="#1a1a1a"/>
<circle cx="608.10" cy="69.46" r="1.45" fill="#1a1a1a"/>
<circle cx="618.27" cy="71.85" r="1.45" fill="#1a1a1a"/>
<circle cx="628.33" cy="74.09" r="1.45" fill="#1a1a1a"/>
<circle cx="630.02" cy="72.34" r="1.45" fill="#1a1a1a"/>
<circle cx="620.60" cy="69.02" r="1.45" fill="#1a1a1a"/>
<circle cx="627.00" cy="67.04" r="1.45" fill="#1a1a1a"/>
<circle cx="619.39" cy="70.56" r="1.45" fill="#1a1a1a"/>
<circle cx="611.95" cy="57.92" r="1.45" fill="#1a1a1a"/>
<circle cx="635.59" cy="75.64" r="1.45" fill="#1a1a1a"/>
<circle cx="619.38" cy="76.11" r="1.45" fill="#1a1a1a"/>
<circle cx="624.83" cy="69.93" r="1.45" fill="#1a1a1a"/>
<circle cx="641.73" cy="75.32" r="1.45" fill="#1a1a1a"/>
<circle cx="616.87" cy="81.97" r="1.45" fill="#1a1a1a"/>
<circle cx="635.24" cy="73.48" r="1.45" fill="#1a1a1a"/>
<circle cx="609.88" cy="65.11" r="1.45" fill="#1a1a1a"/>
<circle cx="632.80" cy="70.55" r="1.45" fill="#1a1a1a"/>
<circle cx="621.93" cy="81.96" r="1.45" fill="#1a1a1a"/>
<circle cx="622.34" cy="78.85" r="1.45" fill="#1a1a1a"/>
<circle cx="628.41" cy="84.11" r="1.45" fill="#1a1a1a"/>
<circle cx="615.78" cy="61.32" r="1.45" fill="#1a1a1a"/>
<circle cx="637.21" cy="81.73" r="1.45" fill="#1a1a1a"/>
<circle cx="610.51" cy="61.45" r="1.45" fill="#1a1a1a"/>
<circle cx="630.57" cy="78.44" r="1.45" fill="#1a1a1a"/>
<circle cx="617.57" cy="72.51" r="1.45" fill="#1a1a1a"/>
<circle cx="613.41" cy="71.05" r="1.45" fill="#1a1a1a"/>
<circle cx="633.91" cy="70.27" r="1.45" fill="#1a1a1a"/>
<circle cx="640.68" cy="76.82" r="1.45" fill="#1a1a1a"/>
<circle cx="622.26" cy="75.66" r="1.45" fill="#1a1a1a"/>
<circle cx="622.36" cy="77.52" r="1.45" fill="#1a1a1a"/>
<circle cx="608.47" cy="61.78" r="1.45" fill="#1a1a1a"/>
<circle cx="635.50" cy="69.98" r="1.45" fill="#1a1a1a"/>
<circle cx="634.59" cy="72.92" r="1.45" fill="#1a1a1a"/>
<circle cx="617.37" cy="68.12" r="1.45" fill="#1a1a1a"/>
<circle cx="620.26" cy="75.71" r="1.45" fill="#1a1a1a"/>
<circle cx="609.18" cy="74.09" r="1.45" fill="#1a1a1a"/>
<circle cx="623.35" cy="69.75" r="1.45" fill="#1a1a1a"/>
<circle cx="619.41" cy="61.36" r="1.45" fill="#1a1a1a"/>
<circle cx="624.90" cy="67.87" r="1.45" fill="#1a1a1a"/>
<circle cx="633.64" cy="78.54" r="1.45" fill="#1a1a1a"/>
<circle cx="606.85" cy="60.94" r="1.45" fill="#1a1a1a"/>
<circle cx="617.62" cy="61.42" r="1.45" fill="#1a1a1a"/>
<circle cx="626.24" cy="65.97" r="1.45" fill="#1a1a1a"/>
<circle cx="629.81" cy="84.25" r="1.45" fill="#1a1a1a"/>
<circle cx="629.44" cy="76.33" r="1.45" fill="#1a1a1a"/>
<circle cx="617.05" cy="70.90" r="1.45" fill="#1a1a1a"/>
<circle cx="629.85" cy="67.85" r="1.45" fill="#1a1a1a"/>
<circle cx="631.89" cy="82.61" r="1.45" fill="#1a1a1a"/>
<circle cx="618.44" cy="82.10" r="1.45" fill="#1a1a1a"/>
<circle cx="622.54" cy="66.99" r="1.45" fill="#1a1a1a"/>
<circle cx="616.98" cy="67.11" r="1.45" fill="#1a1a1a"/>
<circle cx="625.34" cy="65.67" r="1.45" fill="#1a1a1a"/>
<circle cx="616.50" cy="72.90" r="1.45" fill="#1a1a1a"/>
<circle cx="616.99" cy="58.77" r="1.45" fill="#1a1a1a"/>
<circle cx="632.56" cy="74.33" r="1.45" fill="#1a1a1a"/>
<circle cx="625.30" cy="70.60" r="1.45" fill="#1a1a1a"/>
<circle cx="625.11" cy="72.32" r="1.45" fill="#1a1a1a"/>
<circle cx="620.59" cy="76.62" r="1.45" fill="#1a1a1a"/>
<circle cx="618.01" cy="59.67" r="1.45" fill="#1a1a1a"/>
<circle cx="627.91" cy="71.74" r="1.45" fill="#1a1a1a"/>
<circle cx="621.60" cy="69.65" r="1.45" fill="#1a1a1a"/>
<circle cx="626.37" cy="75.16" r="1.45" fill="#1a1a1a"/>
<circle cx="625.05" cy="69.82" r="1.45" fill="#1a1a1a"/>
<circle cx="617.11" cy="72.88" r="1.45" fill="#1a1a1a"/>
<circle cx="615.01" cy="73.70" r="1.45" fill="#1a1a1a"/>
<circle cx="623.24" cy="83.50" r="1.45" fill="#1a1a1a"/>
<circle cx="617.73" cy="74.39" r="1.45" fill="#1a1a1a"/>
<circle cx="645.00" cy="83.65" r="1.45" fill="#1a1a1a"/>
<circle cx="625.21" cy="84.16" r="1.45" fill="#1a1a1a"/>
<circle cx="625.39" cy="68.57" r="1.45" fill="#1a1a1a"/>
<circle cx="621.25" cy="88.34" r="1.45" fill="#1a1a1a"/>
<circle cx="607.68" cy="83.42" r="1.45" fill="#1a1a1a"/>
<circle cx="605.72" cy="60.12" r="1.45" fill="#1a1a1a"/>
<circle cx="632.94" cy="82.88" r="1.45" fill="#1a1a1a"/>
<circle cx="639.15" cy="74.27" r="1.45" fill="#1a1a1a"/>
<circle cx="612.93" cy="64.49" r="1.45" fill="#1a1a1a"/>
<circle cx="643.76" cy="87.96" r="1.45" fill="#1a1a1a"/>
<circle cx="621.26" cy="82.22" r="1.45" fill="#1a1a1a"/>
<circle cx="622.35" cy="95.60" r="1.45" fill="#1a1a1a"/>
<circle cx="611.78" cy="86.11" r="1.45" fill="#1a1a1a"/>
<circle cx="635.05" cy="59.68" r="1.45" fill="#1a1a1a"/>
<circle cx="600.55" cy="73.87" r="1.45" fill="#1a1a1a"/>
<circle cx="612.75" cy="53.37" r="1.45" fill="#1a1a1a"/>
<circle cx="636.31" cy="89.04" r="1.45" fill="#1a1a1a"/>
<circle cx="642.00" cy="77.94" r="1.45" fill="#1a1a1a"/>
<circle cx="602.05" cy="75.65" r="1.45" fill="#1a1a1a"/>
<circle cx="623.67" cy="77.17" r="1.45" fill="#1a1a1a"/>
<circle cx="629.46" cy="82.77" r="1.45" fill="#1a1a1a"/>
<circle cx="630.36" cy="85.60" r="1.45" fill="#1a1a1a"/>
<circle cx="613.41" cy="58.39" r="1.45" fill="#1a1a1a"/>
<circle cx="633.02" cy="75.96" r="1.45" fill="#1a1a1a"/>
<circle cx="602.52" cy="72.05" r="1.45" fill="#1a1a1a"/>
<circle cx="640.18" cy="96.10" r="1.45" fill="#1a1a1a"/>
<circle cx="644.53" cy="88.28" r="1.45" fill="#1a1a1a"/>
<circle cx="633.68" cy="82.05" r="1.45" fill="#1a1a1a"/>
<circle cx="630.81" cy="67.37" r="1.45" fill="#1a1a1a"/>
<circle cx="621.11" cy="60.45" r="1.45" fill="#1a1a1a"/>
<circle cx="615.20" cy="84.12" r="1.45" fill="#1a1a1a"/>
<circle cx="638.49" cy="93.23" r="1.45" fill="#1a1a1a"/>
<circle cx="621.62" cy="67.37" r="1.45" fill="#1a1a1a"/>
<circle cx="635.29" cy="61.87" r="1.45" fill="#1a1a1a"/>
<circle cx="646.04" cy="87.25" r="1.45" fill="#1a1a1a"/>
<circle cx="618.03" cy="78.54" r="1.45" fill="#1a1a1a"/>
<circle cx="609.42" cy="75.35" r="1.45" fill="#1a1a1a"/>
<circle cx="624.48" cy="79.13" r="1.45" fill="#1a1a1a"/>
<circle cx="645.85" cy="87.08" r="1.45" fill="#1a1a1a"/>
<circle cx="604.66" cy="60.26" r="1.45" fill="#1a1a1a"/>
<circle cx="610.67" cy="77.64" r="1.45" fill="#1a1a1a"/>
<circle cx="625.31" cy="81.44" r="1.45" fill="#1a1a1a"/>
<circle cx="611.75" cy="75.97" r="1.45" fill="#1a1a1a"/>
<circle cx="625.27" cy="66.35" r="1.45" fill="#1a1a1a"/>
<circle cx="639.02" cy="74.61" r="1.45" fill="#1a1a1a"/>
<circle cx="613.92" cy="72.81" r="1.45" fill="#1a1a1a"/>
<circle cx="635.18" cy="67.89" r="1.45" fill="#1a1a1a"/>
<circle cx="634.73" cy="83.48" r="1.45" fill="#1a1a1a"/>
<circle cx="628.01" cy="80.97" r="1.45" fill="#1a1a1a"/>
<circle cx="631.25" cy="72.95" r="1.45" fill="#1a1a1a"/>
<circle cx="622.10" cy="85.20" r="1.45" fill="#1a1a1a"/>
<circle cx="614.07" cy="62.91" r="1.45" fill="#1a1a1a"/>
<circle cx="647.38" cy="75.04" r="1.45" fill="#1a1a1a"/>
<circle cx="640.77" cy="74.48" r="1.45" fill="#1a1a1a"/>
<circle cx="627.36" cy="71.77" r="1.45" fill="#1a1a1a"/>
<circle cx="610.99" cy="75.24" r="1.45" fill="#1a1a1a"/>
<circle cx="615.95" cy="67.34" r="1.45" fill="#1a1a1a"/>
<circle cx="618.35" cy="76.71" r="1.45" fill="#1a1a1a"/>
<circle cx="633.65" cy="66.76" r="1.45" fill="#1a1a1a"/>
<circle cx="615.05" cy="84.14" r="1.45" fill="#1a1a1a"/>
<circle cx="640.15" cy="94.19" r="1.45" fill="#1a1a1a"/>
<circle cx="634.46" cy="86.80" r="1.45" fill="#1a1a1a"/>
<circle cx="625.75" cy="96.75" r="1.45" fill="#1a1a1a"/>
<circle cx="638.53" cy="87.43" r="1.45" fill="#1a1a1a"/>
<circle cx="613.38" cy="52.62" r="1.45" fill="#1a1a1a"/>
<circle cx="633.76" cy="84.29" r="1.45" fill="#1a1a1a"/>
<circle cx="629.08" cy="62.66" r="1.45" fill="#1a1a1a"/>
<circle cx="626.98" cy="73.83" r="1.45" fill="#1a1a1a"/>
<circle cx="635.46" cy="90.62" r="1.45" fill="#1a1a1a"/>
<circle cx="629.41" cy="84.43" r="1.45" fill="#1a1a1a"/>
<circle cx="607.97" cy="63.20" r="1.45" fill="#1a1a1a"/>
<circle cx="637.78" cy="81.28" r="1.45" fill="#1a1a1a"/>
<circle cx="613.24" cy="94.50" r="1.45" fill="#1a1a1a"/>
<circle cx="634.97" cy="82.12" r="1.45" fill="#1a1a1a"/>
<circle cx="601.13" cy="70.50" r="1.45" fill="#1a1a1a"/>
<circle cx="603.67" cy="71.00" r="1.45" fill="#1a1a1a"/>
<circle cx="629.63" cy="75.70" r="1.45" fill="#1a1a1a"/>
<circle cx="630.79" cy="77.97" r="1.45" fill="#1a1a1a"/>
<circle cx="609.62" cy="76.64" r="1.45" fill="#1a1a1a"/>
<circle cx="619.42" cy="78.37" r="1.45" fill="#1a1a1a"/>
<circle cx="631.61" cy="73.64" r="1.45" fill="#1a1a1a"/>
<circle cx="633.66" cy="82.71" r="1.45" fill="#1a1a1a"/>
<circle cx="601.61" cy="65.92" r="1.45" fill="#1a1a1a"/>
<circle cx="619.28" cy="65.70" r="1.45" fill="#1a1a1a"/>
<circle cx="610.93" cy="74.18" r="1.45" fill="#1a1a1a"/>
<circle cx="625.35" cy="78.91" r="1.45" fill="#1a1a1a"/>
<circle cx="618.29" cy="94.45" r="1.45" fill="#1a1a1a"/>
<circle cx="634.58" cy="70.72" r="1.45" fill="#1a1a1a"/>
<circle cx="626.33" cy="88.69" r="1.45" fill="#1a1a1a"/>
<circle cx="630.57" cy="73.84" r="1.45" fill="#1a1a1a"/>
<circle cx="624.66" cy="77.83" r="1.45" fill="#1a1a1a"/>
<circle cx="618.70" cy="95.28" r="1.45" fill="#1a1a1a"/>
<circle cx="616.48" cy="82.57" r="1.45" fill="#1a1a1a"/>
<circle cx="612.42" cy="80.76" r="1.45" fill="#1a1a1a"/>
<circle cx="625.62" cy="55.43" r="1.45" fill="#1a1a1a"/>
<circle cx="626.45" cy="96.09" r="1.45" fill="#1a1a1a"/>
<circle cx="633.69" cy="90.31" r="1.45" fill="#1a1a1a"/>
<circle cx="618.35" cy="92.09" r="1.45" fill="#1a1a1a"/>
<circle cx="628.92" cy="89.53" r="1.45" fill="#1a1a1a"/>
<circle cx="626.38" cy="82.13" r="1.45" fill="#1a1a1a"/>
<circle cx="617.84" cy="65.74" r="1.45" fill="#1a1a1a"/>
<circle cx="641.99" cy="82.80" r="1.45" fill="#1a1a1a"/>
<circle cx="613.36" cy="84.93" r="1.45" fill="#1a1a1a"/>
<circle cx="592.40" cy="59.60" r="1.45" fill="#1a1a1a"/>
<circle cx="592.80" cy="61.60" r="1.45" fill="#1a1a1a"/>
<circle cx="596.40" cy="71.60" r="1.45" fill="#1a1a1a"/>
<circle cx="598.40" cy="75.60" r="1.45" fill="#1a1a1a"/>
<circle cx="602.40" cy="81.10" r="1.45" fill="#1a1a1a"/>
<circle cx="603.40" cy="89.10" r="1.45" fill="#1a1a1a"/>
<circle cx="610.40" cy="91.10" r="1.45" fill="#1a1a1a"/>
<circle cx="611.40" cy="93.60" r="1.45" fill="#1a1a1a"/>
<circle cx="620.40" cy="100.60" r="1.45" fill="#1a1a1a"/>
<circle cx="624.40" cy="105.10" r="1.45" fill="#1a1a1a"/>
<circle cx="634.40" cy="103.60" r="1.45" fill="#1a1a1a"/>
<circle cx="635.40" cy="101.60" r="1.45" fill="#1a1a1a"/>
<circle cx="660.40" cy="73.10" r="1.45" fill="#1a1a1a"/>
<circle cx="652.40" cy="73.60" r="1.45" fill="#1a1a1a"/>
<circle cx="651.40" cy="66.10" r="1.45" fill="#1a1a1a"/>
<circle cx="641.40" cy="58.60" r="1.45" fill="#1a1a1a"/>
<circle cx="613.40" cy="52.60" r="1.45" fill="#1a1a1a"/>
<circle cx="617.40" cy="53.60" r="1.45" fill="#1a1a1a"/>
<circle cx="653.40" cy="83.60" r="1.45" fill="#1a1a1a"/>
<circle cx="651.40" cy="93.60" r="1.45" fill="#1a1a1a"/>
<circle cx="642.40" cy="98.60" r="1.45" fill="#1a1a1a"/>
<circle cx="593.40" cy="60.40" r="1.4" fill="#fff" stroke="#111" stroke-width="1.2"/>
<line x1="592.40" y1="62.60" x2="661.00" y2="86.40" stroke="#1a1a1a" stroke-width="0.8" />
</g>
<g id="E">
<text x="0.60" y="190.00" font-size="23.3" fill="#000">E</text>
<text x="15.00" y="219.00" font-size="9.5" fill="#111" textLength="55.00" lengthAdjust="spacingAndGlyphs">GSE number</text>
<text x="165.40" y="219.00" font-size="9.5" text-anchor="middle" fill="#111" textLength="13.40" lengthAdjust="spacingAndGlyphs">HR</text>
<text x="218.00" y="219.00" font-size="9.5" text-anchor="middle" fill="#111" textLength="47.20" lengthAdjust="spacingAndGlyphs">Lower 0.95</text>
<text x="278.80" y="219.00" font-size="9.5" text-anchor="middle" fill="#111" textLength="47.00" lengthAdjust="spacingAndGlyphs">Upper 0.95</text>
<text x="330.40" y="219.00" font-size="9.5" text-anchor="middle" fill="#111" textLength="31.80" lengthAdjust="spacingAndGlyphs">P value</text>
<line x1="7.00" y1="225.50" x2="351.80" y2="225.50" stroke="#9a9a9a" stroke-width="1.0" />
<text x="42.80" y="234.50" font-size="9.5" text-anchor="middle" fill="#111" textLength="46.50" lengthAdjust="spacingAndGlyphs">GSE31210</text>
<text x="110.70" y="234.50" font-size="9.5" text-anchor="middle" fill="#111" textLength="50.60" lengthAdjust="spacingAndGlyphs">GPX3(PFS)</text>
<text x="165.40" y="234.50" font-size="9.5" text-anchor="middle" fill="#111" textLength="18.30" lengthAdjust="spacingAndGlyphs">0.80</text>
<text x="217.80" y="234.50" font-size="9.5" text-anchor="middle" fill="#111" textLength="18.20" lengthAdjust="spacingAndGlyphs">0.63</text>
<text x="278.80" y="234.50" font-size="9.5" text-anchor="middle" fill="#111" textLength="18.00" lengthAdjust="spacingAndGlyphs">1.00</text>
<text x="329.60" y="234.50" font-size="9.5" text-anchor="middle" fill="#111" textLength="23.20" lengthAdjust="spacingAndGlyphs">0.047</text>
<text x="42.80" y="249.00" font-size="9.5" text-anchor="middle" fill="#111" textLength="46.50" lengthAdjust="spacingAndGlyphs">GSE68571</text>
<text x="110.70" y="249.00" font-size="9.5" text-anchor="middle" fill="#111" textLength="45.70" lengthAdjust="spacingAndGlyphs">GPX3(OS)</text>
<text x="165.40" y="249.00" font-size="9.5" text-anchor="middle" fill="#111" textLength="18.30" lengthAdjust="spacingAndGlyphs">0.50</text>
<text x="217.80" y="249.00" font-size="9.5" text-anchor="middle" fill="#111" textLength="18.20" lengthAdjust="spacingAndGlyphs">0.29</text>
<text x="278.80" y="249.00" font-size="9.5" text-anchor="middle" fill="#111" textLength="18.00" lengthAdjust="spacingAndGlyphs">0.87</text>
<text x="329.60" y="249.00" font-size="9.5" text-anchor="middle" fill="#111" textLength="23.20" lengthAdjust="spacingAndGlyphs">0.013</text>
</g>
<g id="F">
<text x="340.50" y="189.60" font-size="23.3" fill="#000">F</text>
<rect x="385.50" y="190.50" width="130.00" height="87.00" fill="none" stroke="#333" stroke-width="0.9" />
<line x1="383.60" y1="205.00" x2="385.50" y2="205.00" stroke="#333" stroke-width="0.9" />
<text x="382.90" y="207.60" font-size="7.3" font-weight="bold" text-anchor="end" fill="#222">2</text>
<line x1="383.60" y1="234.10" x2="385.50" y2="234.10" stroke="#333" stroke-width="0.9" />
<text x="382.90" y="236.70" font-size="7.3" font-weight="bold" text-anchor="end" fill="#222">0</text>
<line x1="383.60" y1="263.40" x2="385.50" y2="263.40" stroke="#333" stroke-width="0.9" />
<text x="382.90" y="266.00" font-size="7.3" font-weight="bold" text-anchor="end" fill="#222">-2</text>
<text x="370.00" y="232.50" font-size="8.6" font-weight="bold" text-anchor="middle" transform="rotate(-90 370.00 232.50)" textLength="101.00" lengthAdjust="spacingAndGlyphs" stroke="#1a1a1a" stroke-width="0.4">Relative <tspan font-style="italic">EGR1</tspan> mRNA level</text>
<text x="450.60" y="187.60" font-size="8.4" font-weight="bold" text-anchor="middle" textLength="38.00" lengthAdjust="spacingAndGlyphs" stroke="#1a1a1a" stroke-width="0.4">GSE19188</text>
<line x1="417.80" y1="204.40" x2="417.80" y2="246.10" stroke="#2e2e2e" stroke-width="1.5" />
<line x1="406.80" y1="204.40" x2="429.30" y2="204.40" stroke="#2e2e2e" stroke-width="1.5" />
<line x1="406.80" y1="246.10" x2="429.30" y2="246.10" stroke="#2e2e2e" stroke-width="1.5" />
<rect x="396.10" y="218.70" width="43.70" height="12.40" fill="#d2d2d2" stroke="#2e2e2e" stroke-width="1.5" />
<line x1="396.10" y1="224.40" x2="439.80" y2="224.40" stroke="#2e2e2e" stroke-width="1.5" />
<line x1="482.90" y1="217.40" x2="482.90" y2="264.30" stroke="#2e2e2e" stroke-width="1.5" />
<line x1="472.00" y1="217.40" x2="493.70" y2="217.40" stroke="#2e2e2e" stroke-width="1.5" />
<line x1="472.00" y1="264.30" x2="493.70" y2="264.30" stroke="#2e2e2e" stroke-width="1.5" />
<rect x="461.20" y="229.40" width="43.70" height="16.70" fill="#d2d2d2" stroke="#2e2e2e" stroke-width="1.5" />
<line x1="461.20" y1="237.60" x2="504.90" y2="237.60" stroke="#2e2e2e" stroke-width="1.5" />
<path d="M418.1 201.2 V198.4 H485 V201.2" stroke="#2e2e2e" stroke-width="1.3" fill="none" />
<text x="451.20" y="198.00" font-size="7.6" font-weight="bold" text-anchor="middle" fill="#2e2e2e" stroke="#2e2e2e" stroke-width="0.2">***</text>
<line x1="417.80" y1="277.60" x2="417.80" y2="279.60" stroke="#3a3a3a" stroke-width="0.9" />
<line x1="482.90" y1="277.60" x2="482.90" y2="279.60" stroke="#3a3a3a" stroke-width="0.9" />
<text x="418.00" y="288.80" font-size="8.8" font-weight="bold" text-anchor="middle" textLength="28.70" lengthAdjust="spacingAndGlyphs" stroke="#1a1a1a" stroke-width="0.4">Normal</text>
<text x="417.80" y="297.40" font-size="7.2" font-weight="bold" text-anchor="middle" textLength="21.80" lengthAdjust="spacingAndGlyphs" stroke="#1a1a1a" stroke-width="0.4">(n=65)</text>
<text x="483.00" y="288.80" font-size="8.8" font-weight="bold" text-anchor="middle" textLength="26.00" lengthAdjust="spacingAndGlyphs" stroke="#1a1a1a" stroke-width="0.4">Tumor</text>
<text x="482.80" y="297.40" font-size="7.2" font-weight="bold" text-anchor="middle" textLength="21.80" lengthAdjust="spacingAndGlyphs" stroke="#1a1a1a" stroke-width="0.4">(n=45)</text>
</g>
<g id="G">
<text x="524.80" y="190.20" font-size="23.3" fill="#000">G</text>
<line x1="565.20" y1="194.00" x2="565.20" y2="273.00" stroke="#1a1a1a" stroke-width="1.1" />
<line x1="561.60" y1="272.50" x2="683.40" y2="272.50" stroke="#1a1a1a" stroke-width="1.1" />
<line x1="562.60" y1="272.36" x2="565.20" y2="272.36" stroke="#1a1a1a" stroke-width="1" />
<text x="562.00" y="274.76" font-size="6.8" font-weight="bold" text-anchor="end">-4</text>
<line x1="562.60" y1="252.88" x2="565.20" y2="252.88" stroke="#1a1a1a" stroke-width="1" />
<text x="562.00" y="255.28" font-size="6.8" font-weight="bold" text-anchor="end">-2</text>
<line x1="562.60" y1="233.40" x2="565.20" y2="233.40" stroke="#1a1a1a" stroke-width="1" />
<text x="562.00" y="235.80" font-size="6.8" font-weight="bold" text-anchor="end">0</text>
<line x1="562.60" y1="213.92" x2="565.20" y2="213.92" stroke="#1a1a1a" stroke-width="1" />
<text x="562.00" y="216.32" font-size="6.8" font-weight="bold" text-anchor="end">2</text>
<line x1="562.60" y1="194.44" x2="565.20" y2="194.44" stroke="#1a1a1a" stroke-width="1" />
<text x="562.00" y="196.84" font-size="6.8" font-weight="bold" text-anchor="end">4</text>
<line x1="564.80" y1="272.50" x2="564.80" y2="275.10" stroke="#1a1a1a" stroke-width="1" />
<text x="565.20" y="282.60" font-size="6.8" font-weight="bold" text-anchor="middle">-2</text>
<line x1="594.30" y1="272.50" x2="594.30" y2="275.10" stroke="#1a1a1a" stroke-width="1" />
<text x="594.70" y="282.60" font-size="6.8" font-weight="bold" text-anchor="middle">-1</text>
<line x1="623.80" y1="272.50" x2="623.80" y2="275.10" stroke="#1a1a1a" stroke-width="1" />
<text x="624.40" y="282.60" font-size="6.8" font-weight="bold" text-anchor="middle">0</text>
<line x1="653.30" y1="272.50" x2="653.30" y2="275.10" stroke="#1a1a1a" stroke-width="1" />
<text x="653.90" y="282.60" font-size="6.8" font-weight="bold" text-anchor="middle">1</text>
<line x1="682.80" y1="272.50" x2="682.80" y2="275.10" stroke="#1a1a1a" stroke-width="1" />
<text x="682.60" y="282.60" font-size="6.8" font-weight="bold" text-anchor="middle">2</text>
<text x="553.00" y="232.50" font-size="8.4" font-weight="bold" text-anchor="middle" transform="rotate(-90 553.00 232.50)" textLength="93.60" lengthAdjust="spacingAndGlyphs" stroke="#1a1a1a" stroke-width="0.4">Relative <tspan font-style="italic">EGR1</tspan> mRNA level</text>
<text x="623.80" y="171.30" font-size="7.6" font-weight="bold" text-anchor="middle" textLength="35.00" lengthAdjust="spacingAndGlyphs" stroke="#1a1a1a" stroke-width="0.4">GSE19188</text>
<text x="623.80" y="182.10" font-size="7.6" font-weight="bold" text-anchor="middle" textLength="27.60" lengthAdjust="spacingAndGlyphs" stroke="#1a1a1a" stroke-width="0.4">(n=110)</text>
<text x="624.40" y="294.30" font-size="8.4" font-weight="bold" text-anchor="middle" textLength="95.00" lengthAdjust="spacingAndGlyphs" stroke="#1a1a1a" stroke-width="0.4">Relative <tspan font-style="italic">CISD2</tspan> mRNA level</text>
<text x="652.00" y="261.40" font-size="7.2" font-weight="bold" textLength="25.40" lengthAdjust="spacingAndGlyphs" stroke="#1a1a1a" stroke-width="0.4">P&lt;0.001</text>
<text x="652.00" y="270.20" font-size="7.2" font-weight="bold" textLength="24.00" lengthAdjust="spacingAndGlyphs" stroke="#1a1a1a" stroke-width="0.4">R=-0.38</text>
<circle cx="568.30" cy="258.80" r="1.5" fill="#fff" stroke="#111" stroke-width="1.2"/>
<circle cx="568.30" cy="267.80" r="1.6" fill="#1a1a1a"/>
<text x="577.00" y="260.80" font-size="5.8" fill="#5a5a5a" textLength="20.40" lengthAdjust="spacingAndGlyphs">Normal</text>
<text x="577.00" y="269.60" font-size="5.8" fill="#5a5a5a" textLength="17.60" lengthAdjust="spacingAndGlyphs">Tumor</text>
<line x1="578.40" y1="220.20" x2="670.00" y2="243.10" stroke="#1a1a1a" stroke-width="0.8" />
<circle cx="636.32" cy="203.93" r="1.5" fill="#1a1a1a"/>
<circle cx="631.32" cy="216.41" r="1.5" fill="#1a1a1a"/>
<circle cx="646.30" cy="214.91" r="1.5" fill="#1a1a1a"/>
<circle cx="670.02" cy="222.65" r="1.5" fill="#1a1a1a"/>
<circle cx="618.84" cy="218.91" r="1.5" fill="#1a1a1a"/>
<circle cx="618.84" cy="224.40" r="1.5" fill="#1a1a1a"/>
<circle cx="613.85" cy="231.89" r="1.5" fill="#1a1a1a"/>
<circle cx="617.59" cy="231.89" r="1.5" fill="#1a1a1a"/>
<circle cx="620.09" cy="233.14" r="1.5" fill="#1a1a1a"/>
<circle cx="623.84" cy="231.89" r="1.5" fill="#1a1a1a"/>
<circle cx="629.33" cy="229.39" r="1.5" fill="#1a1a1a"/>
<circle cx="633.82" cy="228.64" r="1.5" fill="#1a1a1a"/>
<circle cx="640.06" cy="225.65" r="1.5" fill="#1a1a1a"/>
<circle cx="638.81" cy="231.89" r="1.5" fill="#1a1a1a"/>
<circle cx="630.08" cy="234.38" r="1.5" fill="#1a1a1a"/>
<circle cx="627.58" cy="237.38" r="1.5" fill="#1a1a1a"/>
<circle cx="623.84" cy="238.88" r="1.5" fill="#1a1a1a"/>
<circle cx="631.32" cy="240.62" r="1.5" fill="#1a1a1a"/>
<circle cx="643.81" cy="237.38" r="1.5" fill="#1a1a1a"/>
<circle cx="650.05" cy="236.88" r="1.5" fill="#1a1a1a"/>
<circle cx="655.04" cy="236.38" r="1.5" fill="#1a1a1a"/>
<circle cx="655.79" cy="233.88" r="1.5" fill="#1a1a1a"/>
<circle cx="635.07" cy="243.12" r="1.5" fill="#1a1a1a"/>
<circle cx="631.32" cy="245.62" r="1.5" fill="#1a1a1a"/>
<circle cx="647.55" cy="246.87" r="1.5" fill="#1a1a1a"/>
<circle cx="652.04" cy="244.87" r="1.5" fill="#1a1a1a"/>
<circle cx="655.79" cy="240.62" r="1.5" fill="#1a1a1a"/>
<circle cx="655.79" cy="248.11" r="1.5" fill="#1a1a1a"/>
<circle cx="615.10" cy="253.11" r="1.5" fill="#1a1a1a"/>
<circle cx="621.34" cy="250.61" r="1.5" fill="#1a1a1a"/>
<circle cx="629.58" cy="252.36" r="1.5" fill="#1a1a1a"/>
<circle cx="642.56" cy="258.60" r="1.5" fill="#1a1a1a"/>
<circle cx="650.05" cy="256.10" r="1.5" fill="#1a1a1a"/>
<circle cx="594.63" cy="237.38" r="1.5" fill="#1a1a1a"/>
<circle cx="607.61" cy="246.37" r="1.5" fill="#1a1a1a"/>
<circle cx="647.55" cy="249.36" r="1.5" fill="#1a1a1a"/>
<circle cx="626.33" cy="231.89" r="1.5" fill="#1a1a1a"/>
<circle cx="628.33" cy="233.14" r="1.5" fill="#1a1a1a"/>
<circle cx="629.33" cy="236.38" r="1.5" fill="#1a1a1a"/>
<circle cx="628.33" cy="239.38" r="1.5" fill="#1a1a1a"/>
<circle cx="625.08" cy="233.14" r="1.5" fill="#1a1a1a"/>
<circle cx="638.81" cy="237.38" r="1.5" fill="#1a1a1a"/>
<circle cx="620.09" cy="241.87" r="1.5" fill="#1a1a1a"/>
<circle cx="627.58" cy="231.39" r="1.5" fill="#1a1a1a"/>
<circle cx="578.90" cy="229.89" r="1.45" fill="#fff" stroke="#111" stroke-width="1.1"/>
<circle cx="584.64" cy="223.90" r="1.45" fill="#fff" stroke="#111" stroke-width="1.1"/>
<circle cx="588.14" cy="221.90" r="1.45" fill="#fff" stroke="#111" stroke-width="1.1"/>
<circle cx="594.63" cy="203.93" r="1.45" fill="#fff" stroke="#111" stroke-width="1.1"/>
<circle cx="603.12" cy="203.93" r="1.45" fill="#fff" stroke="#111" stroke-width="1.1"/>
<circle cx="598.87" cy="207.42" r="1.45" fill="#fff" stroke="#111" stroke-width="1.1"/>
<circle cx="597.13" cy="210.67" r="1.45" fill="#fff" stroke="#111" stroke-width="1.1"/>
<circle cx="594.63" cy="213.91" r="1.45" fill="#fff" stroke="#111" stroke-width="1.1"/>
<circle cx="600.12" cy="216.41" r="1.45" fill="#fff" stroke="#111" stroke-width="1.1"/>
<circle cx="594.63" cy="219.41" r="1.45" fill="#fff" stroke="#111" stroke-width="1.1"/>
<circle cx="604.36" cy="216.91" r="1.45" fill="#fff" stroke="#111" stroke-width="1.1"/>
<circle cx="608.86" cy="216.41" r="1.45" fill="#fff" stroke="#111" stroke-width="1.1"/>
<circle cx="612.10" cy="218.16" r="1.45" fill="#fff" stroke="#111" stroke-width="1.1"/>
<circle cx="594.63" cy="223.15" r="1.45" fill="#fff" stroke="#111" stroke-width="1.1"/>
<circle cx="600.12" cy="221.40" r="1.45" fill="#fff" stroke="#111" stroke-width="1.1"/>
<circle cx="608.36" cy="223.15" r="1.45" fill="#fff" stroke="#111" stroke-width="1.1"/>
<circle cx="612.10" cy="223.90" r="1.45" fill="#fff" stroke="#111" stroke-width="1.1"/>
<circle cx="595.88" cy="227.64" r="1.45" fill="#fff" stroke="#111" stroke-width="1.1"/>
<circle cx="608.86" cy="226.90" r="1.45" fill="#fff" stroke="#111" stroke-width="1.1"/>
<circle cx="612.10" cy="230.14" r="1.45" fill="#fff" stroke="#111" stroke-width="1.1"/>
<circle cx="597.13" cy="231.89" r="1.45" fill="#fff" stroke="#111" stroke-width="1.1"/>
<circle cx="615.10" cy="233.14" r="1.45" fill="#fff" stroke="#111" stroke-width="1.1"/>
<circle cx="605.11" cy="235.63" r="1.45" fill="#fff" stroke="#111" stroke-width="1.1"/>
<circle cx="609.61" cy="235.63" r="1.45" fill="#fff" stroke="#111" stroke-width="1.1"/>
<circle cx="613.85" cy="236.88" r="1.45" fill="#fff" stroke="#111" stroke-width="1.1"/>
<circle cx="615.60" cy="239.88" r="1.45" fill="#fff" stroke="#111" stroke-width="1.1"/>
<circle cx="603.87" cy="243.62" r="1.45" fill="#fff" stroke="#111" stroke-width="1.1"/>
<circle cx="616.35" cy="244.87" r="1.45" fill="#fff" stroke="#111" stroke-width="1.1"/>
<circle cx="603.87" cy="248.61" r="1.45" fill="#fff" stroke="#111" stroke-width="1.1"/>
<circle cx="619.34" cy="204.43" r="1.45" fill="#fff" stroke="#111" stroke-width="1.1"/>
<circle cx="628.33" cy="208.67" r="1.45" fill="#fff" stroke="#111" stroke-width="1.1"/>
<circle cx="623.84" cy="212.42" r="1.45" fill="#fff" stroke="#111" stroke-width="1.1"/>
<circle cx="621.34" cy="222.40" r="1.45" fill="#fff" stroke="#111" stroke-width="1.1"/>
<circle cx="623.84" cy="221.90" r="1.45" fill="#fff" stroke="#111" stroke-width="1.1"/>
<circle cx="650.79" cy="230.64" r="1.45" fill="#fff" stroke="#111" stroke-width="1.1"/>
<circle cx="622.59" cy="251.36" r="1.45" fill="#fff" stroke="#111" stroke-width="1.1"/>
<circle cx="637.56" cy="238.13" r="1.45" fill="#fff" stroke="#111" stroke-width="1.1"/>
<circle cx="621.34" cy="239.38" r="1.45" fill="#fff" stroke="#111" stroke-width="1.1"/>
<circle cx="606.36" cy="219.41" r="1.45" fill="#fff" stroke="#111" stroke-width="1.1"/>
<circle cx="610.11" cy="229.39" r="1.45" fill="#fff" stroke="#111" stroke-width="1.1"/>
<circle cx="612.60" cy="231.89" r="1.45" fill="#fff" stroke="#111" stroke-width="1.1"/>
<circle cx="616.35" cy="229.39" r="1.45" fill="#fff" stroke="#111" stroke-width="1.1"/>
<circle cx="610.85" cy="220.65" r="1.45" fill="#fff" stroke="#111" stroke-width="1.1"/>
<circle cx="601.87" cy="224.40" r="1.45" fill="#fff" stroke="#111" stroke-width="1.1"/>
<circle cx="606.86" cy="231.39" r="1.45" fill="#fff" stroke="#111" stroke-width="1.1"/>
<circle cx="616.85" cy="236.38" r="1.45" fill="#fff" stroke="#111" stroke-width="1.1"/>
<circle cx="607.86" cy="239.38" r="1.45" fill="#fff" stroke="#111" stroke-width="1.1"/>
</g>
<g id="H">
<text x="18.10" y="292.00" font-size="23.3" fill="#000">H</text>
<line x1="65.40" y1="288.00" x2="65.40" y2="412.80" stroke="#222" stroke-width="1.0" />
<line x1="62.60" y1="412.30" x2="189.40" y2="412.30" stroke="#222" stroke-width="1.0" />
<line x1="63.00" y1="412.30" x2="65.40" y2="412.30" stroke="#222" stroke-width="0.9" />
<text x="62.00" y="414.60" font-size="6.8" font-weight="bold" text-anchor="end" textLength="3.40" lengthAdjust="spacingAndGlyphs" stroke="#1a1a1a" stroke-width="0.4">0</text>
<line x1="63.00" y1="388.58" x2="65.40" y2="388.58" stroke="#222" stroke-width="0.9" />
<text x="62.00" y="390.88" font-size="6.8" font-weight="bold" text-anchor="end" textLength="6.60" lengthAdjust="spacingAndGlyphs" stroke="#1a1a1a" stroke-width="0.4">20</text>
<line x1="63.00" y1="364.86" x2="65.40" y2="364.86" stroke="#222" stroke-width="0.9" />
<text x="62.00" y="367.16" font-size="6.8" font-weight="bold" text-anchor="end" textLength="6.60" lengthAdjust="spacingAndGlyphs" stroke="#1a1a1a" stroke-width="0.4">40</text>
<line x1="63.00" y1="341.14" x2="65.40" y2="341.14" stroke="#222" stroke-width="0.9" />
<text x="62.00" y="343.44" font-size="6.8" font-weight="bold" text-anchor="end" textLength="6.60" lengthAdjust="spacingAndGlyphs" stroke="#1a1a1a" stroke-width="0.4">60</text>
<line x1="63.00" y1="317.42" x2="65.40" y2="317.42" stroke="#222" stroke-width="0.9" />
<text x="62.00" y="319.72" font-size="6.8" font-weight="bold" text-anchor="end" textLength="6.60" lengthAdjust="spacingAndGlyphs" stroke="#1a1a1a" stroke-width="0.4">80</text>
<line x1="63.00" y1="293.70" x2="65.40" y2="293.70" stroke="#222" stroke-width="0.9" />
<text x="62.00" y="296.00" font-size="6.8" font-weight="bold" text-anchor="end" textLength="10.00" lengthAdjust="spacingAndGlyphs" stroke="#1a1a1a" stroke-width="0.4">100</text>
<line x1="65.40" y1="412.30" x2="65.40" y2="414.90" stroke="#222" stroke-width="0.9" />
<text x="65.40" y="423.00" font-size="6.8" font-weight="bold" text-anchor="middle" textLength="3.40" lengthAdjust="spacingAndGlyphs" stroke="#1a1a1a" stroke-width="0.4">0</text>
<line x1="93.93" y1="412.30" x2="93.93" y2="414.90" stroke="#222" stroke-width="0.9" />
<text x="93.93" y="423.00" font-size="6.8" font-weight="bold" text-anchor="middle" textLength="6.60" lengthAdjust="spacingAndGlyphs" stroke="#1a1a1a" stroke-width="0.4">30</text>
<line x1="122.46" y1="412.30" x2="122.46" y2="414.90" stroke="#222" stroke-width="0.9" />
<text x="122.46" y="423.00" font-size="6.8" font-weight="bold" text-anchor="middle" textLength="6.60" lengthAdjust="spacingAndGlyphs" stroke="#1a1a1a" stroke-width="0.4">60</text>
<line x1="150.99" y1="412.30" x2="150.99" y2="414.90" stroke="#222" stroke-width="0.9" />
<text x="150.99" y="423.00" font-size="6.8" font-weight="bold" text-anchor="middle" textLength="6.60" lengthAdjust="spacingAndGlyphs" stroke="#1a1a1a" stroke-width="0.4">90</text>
<line x1="179.52" y1="412.30" x2="179.52" y2="414.90" stroke="#222" stroke-width="0.9" />
<text x="179.52" y="423.00" font-size="6.8" font-weight="bold" text-anchor="middle" textLength="10.00" lengthAdjust="spacingAndGlyphs" stroke="#1a1a1a" stroke-width="0.4">120</text>
<text x="48.60" y="350.20" font-size="9.2" font-weight="bold" text-anchor="middle" transform="rotate(-90 48.60 350.20)" textLength="117.40" lengthAdjust="spacingAndGlyphs" stroke="#1a1a1a" stroke-width="0.4">Recurrence-free survival (%)</text>
<text x="126.60" y="285.00" font-size="8.6" font-weight="bold" text-anchor="middle" textLength="41.30" lengthAdjust="spacingAndGlyphs" stroke="#1a1a1a" stroke-width="0.4">GSE31210</text>
<text x="127.30" y="434.30" font-size="9.8" font-weight="bold" text-anchor="middle" textLength="31.40" lengthAdjust="spacingAndGlyphs" stroke="#1a1a1a" stroke-width="0.4">Months</text>
<text x="71.10" y="384.80" font-size="8" fill="#1c1c1c" textLength="57.00" lengthAdjust="spacingAndGlyphs">Logrank P&lt; 0.05</text>
<line x1="71.00" y1="398.50" x2="82.40" y2="398.50" stroke="#222" stroke-width="0.9" stroke-dasharray="2.6 1.4"/>
<line x1="76.60" y1="397.20" x2="76.60" y2="398.50" stroke="#222" stroke-width="0.7" />
<text x="88.60" y="401.20" font-size="8" fill="#1c1c1c" textLength="37.00" lengthAdjust="spacingAndGlyphs">High EGR1</text>
<line x1="71.00" y1="406.80" x2="82.40" y2="406.80" stroke="#222" stroke-width="0.9" />
<line x1="76.60" y1="405.40" x2="76.60" y2="406.80" stroke="#222" stroke-width="0.7" />
<text x="88.60" y="409.90" font-size="8" fill="#1c1c1c" textLength="35.40" lengthAdjust="spacingAndGlyphs">Low EGR1</text>
<path d="M65.40 293.70 H69.00 V294.60 H72.40 V295.20 H76.00 V295.40 H79.90 V296.20 H80.77 V297.00 H81.63 V297.80 H82.50 V298.60 H83.40 V299.55 H84.30 V300.50 H85.20 V301.45 H86.10 V302.40 H87.40 V303.13 H88.70 V303.87 H90.00 V304.60 H92.05 V305.40 H94.10 V306.20 H96.55 V307.00 H99.00 V307.80 H100.53 V308.50 H102.07 V309.20 H103.60 V309.90 H104.20 V310.67 H104.80 V311.45 H105.40 V312.23 H106.00 V313.00 H106.76 V313.88 H107.52 V314.76 H108.28 V315.64 H109.04 V316.52 H109.80 V317.40 H111.90 V318.00 H114.00 V318.60 H117.00 V319.20 H117.93 V319.87 H118.87 V320.53 H119.80 V321.20 H176.00 V321.30" stroke="#1a1a1a" stroke-width="1.1" fill="none" stroke-dasharray="4.4 1.8"/>
<path d="M65.40 293.70 H67.70 V294.25 H70.00 V294.80 H71.20 V295.50 H72.40 V296.20 H72.71 V297.14 H73.03 V298.07 H73.34 V299.01 H73.65 V299.95 H73.96 V300.89 H74.28 V301.82 H74.59 V302.76 H74.90 V303.70 H75.53 V304.64 H76.15 V305.57 H76.78 V306.51 H77.40 V307.45 H78.03 V308.39 H78.65 V309.32 H79.28 V310.26 H79.90 V311.20 H80.42 V312.08 H80.93 V312.97 H81.45 V313.85 H81.97 V314.73 H82.48 V315.62 H83.00 V316.50 H83.62 V317.44 H84.24 V318.38 H84.86 V319.32 H85.48 V320.26 H86.10 V321.20 H87.55 V321.90 H89.00 V322.60 H89.68 V323.56 H90.36 V324.52 H91.04 V325.48 H91.72 V326.44 H92.40 V327.40 H94.20 V328.10 H96.00 V328.80 H97.95 V329.35 H99.90 V329.90 H102.45 V330.45 H105.00 V331.00 H109.80 V331.90 H115.00 V332.60 H117.40 V333.10 H119.80 V333.60 H128.00 V334.00 H137.30 V334.40 H137.43 V335.32 H137.55 V336.25 H137.68 V337.18 H137.80 V338.10 H174.00 V338.10" stroke="#1a1a1a" stroke-width="1.15" fill="none" />
<line x1="70.00" y1="293.58" x2="70.00" y2="295.08" stroke="#222" stroke-width="0.6" />
<line x1="74.00" y1="294.09" x2="74.00" y2="295.59" stroke="#222" stroke-width="0.6" />
<line x1="81.00" y1="296.02" x2="81.00" y2="297.52" stroke="#222" stroke-width="0.6" />
<line x1="97.00" y1="305.95" x2="97.00" y2="307.45" stroke="#222" stroke-width="0.6" />
<line x1="101.00" y1="307.51" x2="101.00" y2="309.01" stroke="#222" stroke-width="0.6" />
<line x1="112.00" y1="316.83" x2="112.00" y2="318.33" stroke="#222" stroke-width="0.6" />
<line x1="116.00" y1="317.80" x2="116.00" y2="319.30" stroke="#222" stroke-width="0.6" />
<line x1="122.00" y1="320.00" x2="122.00" y2="321.50" stroke="#222" stroke-width="0.6" />
<line x1="125.00" y1="320.01" x2="125.00" y2="321.51" stroke="#222" stroke-width="0.6" />
<line x1="128.00" y1="320.01" x2="128.00" y2="321.51" stroke="#222" stroke-width="0.6" />
<line x1="131.00" y1="320.02" x2="131.00" y2="321.52" stroke="#222" stroke-width="0.6" />
<line x1="134.00" y1="320.03" x2="134.00" y2="321.53" stroke="#222" stroke-width="0.6" />
<line x1="138.00" y1="320.03" x2="138.00" y2="321.53" stroke="#222" stroke-width="0.6" />
<line x1="142.00" y1="320.04" x2="142.00" y2="321.54" stroke="#222" stroke-width="0.6" />
<line x1="146.00" y1="320.05" x2="146.00" y2="321.55" stroke="#222" stroke-width="0.6" />
<line x1="150.00" y1="320.05" x2="150.00" y2="321.55" stroke="#222" stroke-width="0.6" />
<line x1="155.00" y1="320.06" x2="155.00" y2="321.56" stroke="#222" stroke-width="0.6" />
<line x1="160.00" y1="320.07" x2="160.00" y2="321.57" stroke="#222" stroke-width="0.6" />
<line x1="166.00" y1="320.08" x2="166.00" y2="321.58" stroke="#222" stroke-width="0.6" />
<line x1="171.00" y1="320.09" x2="171.00" y2="321.59" stroke="#222" stroke-width="0.6" />
<line x1="95.00" y1="327.21" x2="95.00" y2="328.71" stroke="#222" stroke-width="0.6" />
<line x1="98.00" y1="328.16" x2="98.00" y2="329.66" stroke="#222" stroke-width="0.6" />
<line x1="102.00" y1="329.15" x2="102.00" y2="330.65" stroke="#222" stroke-width="0.6" />
<line x1="104.00" y1="329.58" x2="104.00" y2="331.08" stroke="#222" stroke-width="0.6" />
<line x1="107.00" y1="330.18" x2="107.00" y2="331.68" stroke="#222" stroke-width="0.6" />
<line x1="111.00" y1="330.86" x2="111.00" y2="332.36" stroke="#222" stroke-width="0.6" />
<line x1="113.00" y1="331.13" x2="113.00" y2="332.63" stroke="#222" stroke-width="0.6" />
<line x1="117.00" y1="331.82" x2="117.00" y2="333.32" stroke="#222" stroke-width="0.6" />
<line x1="121.00" y1="332.46" x2="121.00" y2="333.96" stroke="#222" stroke-width="0.6" />
<line x1="124.00" y1="332.60" x2="124.00" y2="334.10" stroke="#222" stroke-width="0.6" />
<line x1="127.00" y1="332.75" x2="127.00" y2="334.25" stroke="#222" stroke-width="0.6" />
<line x1="130.00" y1="332.89" x2="130.00" y2="334.39" stroke="#222" stroke-width="0.6" />
<line x1="133.00" y1="333.02" x2="133.00" y2="334.52" stroke="#222" stroke-width="0.6" />
<line x1="136.00" y1="333.14" x2="136.00" y2="334.64" stroke="#222" stroke-width="0.6" />
<line x1="141.00" y1="336.90" x2="141.00" y2="338.40" stroke="#222" stroke-width="0.6" />
<line x1="144.00" y1="336.90" x2="144.00" y2="338.40" stroke="#222" stroke-width="0.6" />
<line x1="148.00" y1="336.90" x2="148.00" y2="338.40" stroke="#222" stroke-width="0.6" />
<line x1="152.00" y1="336.90" x2="152.00" y2="338.40" stroke="#222" stroke-width="0.6" />
<line x1="157.00" y1="336.90" x2="157.00" y2="338.40" stroke="#222" stroke-width="0.6" />
<line x1="162.00" y1="336.90" x2="162.00" y2="338.40" stroke="#222" stroke-width="0.6" />
<line x1="168.00" y1="336.90" x2="168.00" y2="338.40" stroke="#222" stroke-width="0.6" />
</g>
<g id="I">
<text x="209.20" y="323.90" font-size="23.3" fill="#000">I</text>
<text x="291.80" y="332.00" font-size="7.6" font-weight="bold" text-anchor="middle" textLength="17.80" lengthAdjust="spacingAndGlyphs" stroke="#1a1a1a" stroke-width="0.1">A549</text>
<line x1="236.70" y1="341.20" x2="236.70" y2="414.10" stroke="#333" stroke-width="1.2" />
<line x1="234.10" y1="413.60" x2="346.00" y2="413.60" stroke="#333" stroke-width="1.2" />
<line x1="234.30" y1="413.60" x2="236.70" y2="413.60" stroke="#1a1a1a" stroke-width="0.9" />
<text x="233.70" y="415.70" font-size="6" font-weight="bold" text-anchor="end" textLength="8.00" lengthAdjust="spacingAndGlyphs" stroke="#1a1a1a" stroke-width="0.4">0.0</text>
<line x1="234.30" y1="395.60" x2="236.70" y2="395.60" stroke="#1a1a1a" stroke-width="0.9" />
<text x="233.70" y="397.70" font-size="6" font-weight="bold" text-anchor="end" textLength="8.00" lengthAdjust="spacingAndGlyphs" stroke="#1a1a1a" stroke-width="0.4">0.5</text>
<line x1="234.30" y1="377.60" x2="236.70" y2="377.60" stroke="#1a1a1a" stroke-width="0.9" />
<text x="233.70" y="379.70" font-size="6" font-weight="bold" text-anchor="end" textLength="8.00" lengthAdjust="spacingAndGlyphs" stroke="#1a1a1a" stroke-width="0.4">1.0</text>
<line x1="234.30" y1="359.60" x2="236.70" y2="359.60" stroke="#1a1a1a" stroke-width="0.9" />
<text x="233.70" y="361.70" font-size="6" font-weight="bold" text-anchor="end" textLength="8.00" lengthAdjust="spacingAndGlyphs" stroke="#1a1a1a" stroke-width="0.4">1.5</text>
<line x1="234.30" y1="341.60" x2="236.70" y2="341.60" stroke="#1a1a1a" stroke-width="0.9" />
<text x="233.70" y="343.70" font-size="6" font-weight="bold" text-anchor="end" textLength="8.00" lengthAdjust="spacingAndGlyphs" stroke="#1a1a1a" stroke-width="0.4">2.0</text>
<text x="222.60" y="377.60" font-size="7.4" font-weight="bold" text-anchor="middle" transform="rotate(-90 222.60 377.60)" textLength="85.00" lengthAdjust="spacingAndGlyphs" stroke="#1a1a1a" stroke-width="0.4">Relative mRNA expression</text>
<rect x="243.10" y="342.70" width="7.30" height="5.20" fill="#fff" stroke="#1a1a1a" stroke-width="1.15" />
<rect x="242.50" y="350.50" width="8.40" height="6.00" fill="#1a1a1a" />
<text x="255.20" y="347.80" font-size="6.6" font-weight="bold" textLength="15.80" lengthAdjust="spacingAndGlyphs" stroke="#1a1a1a" stroke-width="0.4">siNTC</text>
<text x="255.20" y="355.80" font-size="6.6" font-weight="bold" textLength="21.20" lengthAdjust="spacingAndGlyphs" stroke="#1a1a1a" stroke-width="0.4">siCISD2</text>
<line x1="254.50" y1="377.60" x2="254.50" y2="375.08" stroke="#1a1a1a" stroke-width="1.2" />
<line x1="250.90" y1="375.08" x2="258.10" y2="375.08" stroke="#1a1a1a" stroke-width="1.2" />
<rect x="248.20" y="377.60" width="12.60" height="36.00" fill="#fff" stroke="#1a1a1a" stroke-width="1.3" />
<line x1="275.10" y1="407.12" x2="275.10" y2="404.60" stroke="#1a1a1a" stroke-width="1.2" />
<line x1="271.50" y1="404.60" x2="278.70" y2="404.60" stroke="#1a1a1a" stroke-width="1.2" />
<rect x="268.00" y="407.12" width="14.20" height="6.48" fill="#1a1a1a" />
<line x1="308.90" y1="377.60" x2="308.90" y2="375.08" stroke="#1a1a1a" stroke-width="1.2" />
<line x1="305.30" y1="375.08" x2="312.50" y2="375.08" stroke="#1a1a1a" stroke-width="1.2" />
<rect x="302.60" y="377.60" width="12.60" height="36.00" fill="#fff" stroke="#1a1a1a" stroke-width="1.3" />
<line x1="329.10" y1="359.96" x2="329.10" y2="359.24" stroke="#1a1a1a" stroke-width="1.2" />
<line x1="325.50" y1="359.24" x2="332.70" y2="359.24" stroke="#1a1a1a" stroke-width="1.2" />
<rect x="322.00" y="359.96" width="14.20" height="53.64" fill="#1a1a1a" />
<path d="M253 373.00 V370.80 H278 V373.00" stroke="#333" stroke-width="1.0" fill="none" />
<text x="265.50" y="371.50" font-size="6" font-weight="bold" text-anchor="middle" fill="#222" stroke="#222" stroke-width="0.25">**</text>
<path d="M307.6 358.60 V356.40 H331.4 V358.60" stroke="#333" stroke-width="1.0" fill="none" />
<text x="319.50" y="357.10" font-size="6" font-weight="bold" text-anchor="middle" fill="#222" stroke="#222" stroke-width="0.25">**</text>
<line x1="264.60" y1="413.60" x2="264.60" y2="416.00" stroke="#1a1a1a" stroke-width="0.9" />
<line x1="318.60" y1="413.60" x2="318.60" y2="416.00" stroke="#1a1a1a" stroke-width="0.9" />
<text x="264.60" y="423.70" font-size="7.6" font-weight="bold" text-anchor="middle" textLength="19.00" lengthAdjust="spacingAndGlyphs" stroke="#1a1a1a" stroke-width="0.4">CISD2</text>
<text x="319.00" y="423.70" font-size="7.6" font-weight="bold" text-anchor="middle" textLength="17.00" lengthAdjust="spacingAndGlyphs" stroke="#1a1a1a" stroke-width="0.4">EGR1</text>
<text x="444.30" y="332.00" font-size="7.6" font-weight="bold" text-anchor="middle" textLength="22.60" lengthAdjust="spacingAndGlyphs" stroke="#1a1a1a" stroke-width="0.1">H1299</text>
<line x1="390.00" y1="342.20" x2="390.00" y2="414.90" stroke="#333" stroke-width="1.2" />
<line x1="387.40" y1="414.40" x2="498.40" y2="414.40" stroke="#333" stroke-width="1.2" />
<line x1="387.60" y1="414.40" x2="390.00" y2="414.40" stroke="#1a1a1a" stroke-width="0.9" />
<text x="387.00" y="416.50" font-size="6" font-weight="bold" text-anchor="end" textLength="8.00" lengthAdjust="spacingAndGlyphs" stroke="#1a1a1a" stroke-width="0.4">0.0</text>
<line x1="387.60" y1="396.45" x2="390.00" y2="396.45" stroke="#1a1a1a" stroke-width="0.9" />
<text x="387.00" y="398.55" font-size="6" font-weight="bold" text-anchor="end" textLength="8.00" lengthAdjust="spacingAndGlyphs" stroke="#1a1a1a" stroke-width="0.4">0.5</text>
<line x1="387.60" y1="378.50" x2="390.00" y2="378.50" stroke="#1a1a1a" stroke-width="0.9" />
<text x="387.00" y="380.60" font-size="6" font-weight="bold" text-anchor="end" textLength="8.00" lengthAdjust="spacingAndGlyphs" stroke="#1a1a1a" stroke-width="0.4">1.0</text>
<line x1="387.60" y1="360.55" x2="390.00" y2="360.55" stroke="#1a1a1a" stroke-width="0.9" />
<text x="387.00" y="362.65" font-size="6" font-weight="bold" text-anchor="end" textLength="8.00" lengthAdjust="spacingAndGlyphs" stroke="#1a1a1a" stroke-width="0.4">1.5</text>
<line x1="387.60" y1="342.60" x2="390.00" y2="342.60" stroke="#1a1a1a" stroke-width="0.9" />
<text x="387.00" y="344.70" font-size="6" font-weight="bold" text-anchor="end" textLength="8.00" lengthAdjust="spacingAndGlyphs" stroke="#1a1a1a" stroke-width="0.4">2.0</text>
<text x="373.60" y="378.50" font-size="7.4" font-weight="bold" text-anchor="middle" transform="rotate(-90 373.60 378.50)" textLength="85.00" lengthAdjust="spacingAndGlyphs" stroke="#1a1a1a" stroke-width="0.4">Relative mRNA expression</text>
<rect x="395.30" y="343.70" width="7.30" height="5.20" fill="#fff" stroke="#1a1a1a" stroke-width="1.15" />
<rect x="394.70" y="351.50" width="8.40" height="6.00" fill="#1a1a1a" />
<text x="407.40" y="348.80" font-size="6.6" font-weight="bold" textLength="15.80" lengthAdjust="spacingAndGlyphs" stroke="#1a1a1a" stroke-width="0.4">siNTC</text>
<text x="407.40" y="356.80" font-size="6.6" font-weight="bold" textLength="21.20" lengthAdjust="spacingAndGlyphs" stroke="#1a1a1a" stroke-width="0.4">siCISD2</text>
<line x1="406.90" y1="378.50" x2="406.90" y2="377.78" stroke="#1a1a1a" stroke-width="1.2" />
<line x1="403.30" y1="377.78" x2="410.50" y2="377.78" stroke="#1a1a1a" stroke-width="1.2" />
<rect x="400.60" y="378.50" width="12.60" height="35.90" fill="#fff" stroke="#1a1a1a" stroke-width="1.3" />
<line x1="427.50" y1="407.94" x2="427.50" y2="406.86" stroke="#1a1a1a" stroke-width="1.2" />
<line x1="423.90" y1="406.86" x2="431.10" y2="406.86" stroke="#1a1a1a" stroke-width="1.2" />
<rect x="420.40" y="407.94" width="14.20" height="6.46" fill="#1a1a1a" />
<line x1="461.30" y1="378.50" x2="461.30" y2="377.78" stroke="#1a1a1a" stroke-width="1.2" />
<line x1="457.70" y1="377.78" x2="464.90" y2="377.78" stroke="#1a1a1a" stroke-width="1.2" />
<rect x="455.00" y="378.50" width="12.60" height="35.90" fill="#fff" stroke="#1a1a1a" stroke-width="1.3" />
<line x1="481.70" y1="361.63" x2="481.70" y2="360.91" stroke="#1a1a1a" stroke-width="1.2" />
<line x1="478.10" y1="360.91" x2="485.30" y2="360.91" stroke="#1a1a1a" stroke-width="1.2" />
<rect x="474.60" y="361.63" width="14.20" height="52.77" fill="#1a1a1a" />
<path d="M407 374.00 V371.80 H431.6 V374.00" stroke="#333" stroke-width="1.0" fill="none" />
<text x="419.30" y="372.50" font-size="6" font-weight="bold" text-anchor="middle" fill="#222" stroke="#222" stroke-width="0.25">**</text>
<path d="M460 358.00 V355.80 H484 V358.00" stroke="#333" stroke-width="1.0" fill="none" />
<text x="472.00" y="356.50" font-size="6" font-weight="bold" text-anchor="middle" fill="#222" stroke="#222" stroke-width="0.25">**</text>
<line x1="417.00" y1="414.40" x2="417.00" y2="416.80" stroke="#1a1a1a" stroke-width="0.9" />
<line x1="471.40" y1="414.40" x2="471.40" y2="416.80" stroke="#1a1a1a" stroke-width="0.9" />
<text x="417.00" y="423.70" font-size="7.6" font-weight="bold" text-anchor="middle" textLength="19.00" lengthAdjust="spacingAndGlyphs" stroke="#1a1a1a" stroke-width="0.4">CISD2</text>
<text x="471.20" y="423.70" font-size="7.6" font-weight="bold" text-anchor="middle" textLength="17.00" lengthAdjust="spacingAndGlyphs" stroke="#1a1a1a" stroke-width="0.4">EGR1</text>
<text x="596.00" y="332.00" font-size="7.6" font-weight="bold" text-anchor="middle" textLength="21.40" lengthAdjust="spacingAndGlyphs" stroke="#1a1a1a" stroke-width="0.1">CL1-5</text>
<line x1="541.60" y1="342.20" x2="541.60" y2="414.90" stroke="#333" stroke-width="1.2" />
<line x1="539.00" y1="414.40" x2="651.00" y2="414.40" stroke="#333" stroke-width="1.2" />
<line x1="539.20" y1="414.40" x2="541.60" y2="414.40" stroke="#1a1a1a" stroke-width="0.9" />
<text x="538.60" y="416.50" font-size="6" font-weight="bold" text-anchor="end" textLength="8.00" lengthAdjust="spacingAndGlyphs" stroke="#1a1a1a" stroke-width="0.4">0.0</text>
<line x1="539.20" y1="396.45" x2="541.60" y2="396.45" stroke="#1a1a1a" stroke-width="0.9" />
<text x="538.60" y="398.55" font-size="6" font-weight="bold" text-anchor="end" textLength="8.00" lengthAdjust="spacingAndGlyphs" stroke="#1a1a1a" stroke-width="0.4">0.5</text>
<line x1="539.20" y1="378.50" x2="541.60" y2="378.50" stroke="#1a1a1a" stroke-width="0.9" />
<text x="538.60" y="380.60" font-size="6" font-weight="bold" text-anchor="end" textLength="8.00" lengthAdjust="spacingAndGlyphs" stroke="#1a1a1a" stroke-width="0.4">1.0</text>
<line x1="539.20" y1="360.55" x2="541.60" y2="360.55" stroke="#1a1a1a" stroke-width="0.9" />
<text x="538.60" y="362.65" font-size="6" font-weight="bold" text-anchor="end" textLength="8.00" lengthAdjust="spacingAndGlyphs" stroke="#1a1a1a" stroke-width="0.4">1.5</text>
<line x1="539.20" y1="342.60" x2="541.60" y2="342.60" stroke="#1a1a1a" stroke-width="0.9" />
<text x="538.60" y="344.70" font-size="6" font-weight="bold" text-anchor="end" textLength="8.00" lengthAdjust="spacingAndGlyphs" stroke="#1a1a1a" stroke-width="0.4">2.0</text>
<text x="525.20" y="378.50" font-size="7.4" font-weight="bold" text-anchor="middle" transform="rotate(-90 525.20 378.50)" textLength="85.00" lengthAdjust="spacingAndGlyphs" stroke="#1a1a1a" stroke-width="0.4">Relative mRNA expression</text>
<rect x="547.10" y="343.70" width="7.30" height="5.20" fill="#fff" stroke="#1a1a1a" stroke-width="1.15" />
<rect x="546.50" y="351.50" width="8.40" height="6.00" fill="#1a1a1a" />
<text x="559.20" y="348.80" font-size="6.6" font-weight="bold" textLength="15.80" lengthAdjust="spacingAndGlyphs" stroke="#1a1a1a" stroke-width="0.4">siNTC</text>
<text x="559.20" y="356.80" font-size="6.6" font-weight="bold" textLength="21.20" lengthAdjust="spacingAndGlyphs" stroke="#1a1a1a" stroke-width="0.4">siCISD2</text>
<rect x="552.20" y="378.50" width="12.60" height="35.90" fill="#fff" stroke="#1a1a1a" stroke-width="1.3" />
<line x1="579.10" y1="410.09" x2="579.10" y2="409.55" stroke="#1a1a1a" stroke-width="1.2" />
<line x1="575.50" y1="409.55" x2="582.70" y2="409.55" stroke="#1a1a1a" stroke-width="1.2" />
<rect x="572.00" y="410.09" width="14.20" height="4.31" fill="#1a1a1a" />
<rect x="606.60" y="378.50" width="12.60" height="35.90" fill="#fff" stroke="#1a1a1a" stroke-width="1.3" />
<line x1="633.10" y1="363.06" x2="633.10" y2="362.34" stroke="#1a1a1a" stroke-width="1.2" />
<line x1="629.50" y1="362.34" x2="636.70" y2="362.34" stroke="#1a1a1a" stroke-width="1.2" />
<rect x="626.00" y="363.06" width="14.20" height="51.34" fill="#1a1a1a" />
<path d="M557.4 374.40 V372.20 H581.4 V374.40" stroke="#333" stroke-width="1.0" fill="none" />
<text x="569.40" y="372.90" font-size="6" font-weight="bold" text-anchor="middle" fill="#222" stroke="#222" stroke-width="0.25">**</text>
<path d="M611.4 359.60 V357.40 H634.6 V359.60" stroke="#333" stroke-width="1.0" fill="none" />
<text x="623.00" y="358.10" font-size="6" font-weight="bold" text-anchor="middle" fill="#222" stroke="#222" stroke-width="0.25">**</text>
<line x1="569.00" y1="414.40" x2="569.00" y2="416.80" stroke="#1a1a1a" stroke-width="0.9" />
<line x1="623.00" y1="414.40" x2="623.00" y2="416.80" stroke="#1a1a1a" stroke-width="0.9" />
<text x="568.60" y="423.70" font-size="7.6" font-weight="bold" text-anchor="middle" textLength="19.00" lengthAdjust="spacingAndGlyphs" stroke="#1a1a1a" stroke-width="0.4">CISD2</text>
<text x="623.40" y="423.70" font-size="7.6" font-weight="bold" text-anchor="middle" textLength="17.00" lengthAdjust="spacingAndGlyphs" stroke="#1a1a1a" stroke-width="0.4">EGR1</text>
</g>
<g id="J">
<text x="18.00" y="495.00" font-size="23.3" fill="#000">J</text>
<text x="68.50" y="499.00" font-size="9.2" font-weight="bold" text-anchor="middle" textLength="23.00" lengthAdjust="spacingAndGlyphs" stroke="#1a1a1a" stroke-width="0.4">A549</text>
<text x="110.00" y="499.00" font-size="9.2" font-weight="bold" text-anchor="middle" textLength="28.00" lengthAdjust="spacingAndGlyphs" stroke="#1a1a1a" stroke-width="0.4">H1299</text>
<text x="153.30" y="499.00" font-size="9.2" font-weight="bold" text-anchor="middle" textLength="26.60" lengthAdjust="spacingAndGlyphs" stroke="#1a1a1a" stroke-width="0.4">CL1-5</text>
<line x1="54.00" y1="502.40" x2="81.60" y2="502.40" stroke="#5a5a5a" stroke-width="1.2" />
<line x1="95.60" y1="502.40" x2="123.00" y2="502.40" stroke="#5a5a5a" stroke-width="1.2" />
<line x1="139.40" y1="502.40" x2="167.00" y2="502.40" stroke="#5a5a5a" stroke-width="1.2" />
<text x="60.00" y="539.00" font-size="8.6" font-weight="bold" transform="rotate(-90 60.00 539.00)" textLength="26.00" lengthAdjust="spacingAndGlyphs" stroke="#1a1a1a" stroke-width="0.4">siNTC</text>
<text x="81.00" y="539.00" font-size="8.6" font-weight="bold" transform="rotate(-90 81.00 539.00)" textLength="35.00" lengthAdjust="spacingAndGlyphs" stroke="#1a1a1a" stroke-width="0.4">siCISD2</text>
<text x="102.20" y="539.00" font-size="8.6" font-weight="bold" transform="rotate(-90 102.20 539.00)" textLength="26.00" lengthAdjust="spacingAndGlyphs" stroke="#1a1a1a" stroke-width="0.4">siNTC</text>
<text x="122.40" y="539.00" font-size="8.6" font-weight="bold" transform="rotate(-90 122.40 539.00)" textLength="35.00" lengthAdjust="spacingAndGlyphs" stroke="#1a1a1a" stroke-width="0.4">siCISD2</text>
<text x="146.80" y="539.00" font-size="8.6" font-weight="bold" transform="rotate(-90 146.80 539.00)" textLength="26.00" lengthAdjust="spacingAndGlyphs" stroke="#1a1a1a" stroke-width="0.4">siNTC</text>
<text x="166.60" y="539.00" font-size="8.6" font-weight="bold" transform="rotate(-90 166.60 539.00)" textLength="35.00" lengthAdjust="spacingAndGlyphs" stroke="#1a1a1a" stroke-width="0.4">siCISD2</text>
<text x="1.60" y="551.70" font-size="8.2" fill="#1c1c1c" textLength="46.40" lengthAdjust="spacingAndGlyphs" stroke="#1c1c1c" stroke-width="0.1">Densitometry</text>
<text x="55.00" y="552.80" font-size="8.4" text-anchor="middle" fill="#1c1c1c" textLength="4.00" lengthAdjust="spacingAndGlyphs" stroke="#1c1c1c" stroke-width="0.2">0</text>
<text x="77.00" y="552.80" font-size="8.4" text-anchor="middle" fill="#1c1c1c" textLength="4.00" lengthAdjust="spacingAndGlyphs" stroke="#1c1c1c" stroke-width="0.2">0</text>
<text x="99.50" y="552.80" font-size="8.4" text-anchor="middle" fill="#1c1c1c" textLength="11.00" lengthAdjust="spacingAndGlyphs" stroke="#1c1c1c" stroke-width="0.2">1.0</text>
<text x="120.80" y="552.80" font-size="8.4" text-anchor="middle" fill="#1c1c1c" textLength="10.40" lengthAdjust="spacingAndGlyphs" stroke="#1c1c1c" stroke-width="0.2">1.1</text>
<text x="142.30" y="552.80" font-size="8.4" text-anchor="middle" fill="#1c1c1c" textLength="11.40" lengthAdjust="spacingAndGlyphs" stroke="#1c1c1c" stroke-width="0.2">1.0</text>
<text x="164.30" y="552.80" font-size="8.4" text-anchor="middle" fill="#1c1c1c" textLength="11.40" lengthAdjust="spacingAndGlyphs" stroke="#1c1c1c" stroke-width="0.2">2.6</text>
<text x="44.40" y="567.40" font-size="9.6" font-weight="bold" text-anchor="end" textLength="26.00" lengthAdjust="spacingAndGlyphs" stroke="#1a1a1a" stroke-width="0.4">EGR1</text>
<text x="44.40" y="586.00" font-size="9.6" font-weight="bold" text-anchor="end" textLength="28.00" lengthAdjust="spacingAndGlyphs" stroke="#1a1a1a" stroke-width="0.4">CISD2</text>
<text x="44.40" y="603.20" font-size="9.6" font-weight="bold" text-anchor="end" textLength="33.40" lengthAdjust="spacingAndGlyphs" stroke="#1a1a1a" stroke-width="0.4">GAPDH</text>
<clipPath id="c1"><rect x="48.00" y="554.20" width="82.40" height="17.40"/></clipPath>
<rect x="48.00" y="554.20" width="82.40" height="17.40" fill="#878787" />
<g clip-path="url(#c1)"><g filter="url(#b1)">
<rect x="92.50" y="564.40" width="13.00" height="1.60" rx="0.80" fill="#0d0d0d" opacity="0.4"/>
<rect x="112.50" y="563.50" width="13.00" height="1.80" rx="0.90" fill="#0d0d0d" opacity="0.5"/>
</g></g>
<clipPath id="c2"><rect x="48.00" y="574.40" width="82.40" height="13.00"/></clipPath>
<rect x="48.00" y="574.40" width="82.40" height="13.00" fill="#848484" />
<g clip-path="url(#c2)"><g filter="url(#b1)">
<rect x="49.60" y="580.30" width="12.80" height="3.40" rx="1.70" fill="#0d0d0d" opacity="1"/>
<rect x="73.50" y="581.20" width="8.00" height="1.60" rx="0.80" fill="#0d0d0d" opacity="0.25"/>
<rect x="90.50" y="579.10" width="14.00" height="4.60" rx="2.30" fill="#0d0d0d" opacity="1"/>
<rect x="96.50" y="578.00" width="8.00" height="5.20" rx="2.60" fill="#0d0d0d" opacity="1"/>
<rect x="112.50" y="580.30" width="12.00" height="2.20" rx="1.10" fill="#0d0d0d" opacity="0.9"/>
</g></g>
<clipPath id="c3"><rect x="48.00" y="590.00" width="82.40" height="18.00"/></clipPath>
<rect x="48.00" y="590.00" width="82.40" height="18.00" fill="#7e7e7e" />
<g clip-path="url(#c3)"><g filter="url(#b1)">
<rect x="48.40" y="597.60" width="15.20" height="4.80" rx="2.40" fill="#0d0d0d" opacity="1"/>
<rect x="69.80" y="597.80" width="14.40" height="4.40" rx="2.20" fill="#0d0d0d" opacity="1"/>
<rect x="90.40" y="597.50" width="15.20" height="5.00" rx="2.50" fill="#0d0d0d" opacity="1"/>
<rect x="111.40" y="597.60" width="15.20" height="4.80" rx="2.40" fill="#0d0d0d" opacity="1"/>
<rect x="50.00" y="599.10" width="76.00" height="1.80" rx="0.90" fill="#0d0d0d" opacity="0.5"/>
</g></g>
<clipPath id="c4"><rect x="133.00" y="554.20" width="41.00" height="17.40"/></clipPath>
<rect x="133.00" y="554.20" width="41.00" height="17.40" fill="#8a8a8a" />
<g clip-path="url(#c4)"><g filter="url(#b1)">
<rect x="137.50" y="562.90" width="12.00" height="2.20" rx="1.10" fill="#0d0d0d" opacity="0.6"/>
<rect x="153.90" y="560.80" width="17.20" height="4.00" rx="2.00" fill="#0d0d0d" opacity="0.95"/>
</g></g>
<clipPath id="c5"><rect x="133.00" y="574.40" width="41.00" height="13.00"/></clipPath>
<rect x="133.00" y="574.40" width="41.00" height="13.00" fill="#868686" />
<g clip-path="url(#c5)"><g filter="url(#b1)">
<rect x="136.30" y="579.20" width="12.40" height="4.00" rx="2.00" fill="#0d0d0d" opacity="0.95"/>
<rect x="158.00" y="581.20" width="10.00" height="1.60" rx="0.80" fill="#0d0d0d" opacity="0.12"/>
</g></g>
<clipPath id="c6"><rect x="133.00" y="590.40" width="41.00" height="18.00"/></clipPath>
<rect x="133.00" y="590.40" width="41.00" height="18.00" fill="#6a6a6a" />
<g clip-path="url(#c6)"><g filter="url(#b1)">
<rect x="135.00" y="594.20" width="17.20" height="11.20" rx="5.60" fill="#0d0d0d" opacity="1"/>
<rect x="153.20" y="592.90" width="18.40" height="12.60" rx="6.30" fill="#0d0d0d" opacity="1"/>
<rect x="141.00" y="594.60" width="24.00" height="10.00" rx="5.00" fill="#0d0d0d" opacity="1"/>
<rect x="134.50" y="592.50" width="38.00" height="15.00" rx="7.50" fill="#0d0d0d" opacity="0.35"/>
</g></g>
<line x1="174.40" y1="563.50" x2="181.60" y2="563.50" stroke="#222" stroke-width="1.0" />
<text x="183.00" y="565.00" font-size="7.8" font-weight="bold" textLength="25.00" lengthAdjust="spacingAndGlyphs" stroke="#1a1a1a" stroke-width="0.4">75kDa</text>
<line x1="174.40" y1="580.50" x2="181.60" y2="580.50" stroke="#222" stroke-width="1.0" />
<text x="183.00" y="583.00" font-size="7.8" font-weight="bold" textLength="25.00" lengthAdjust="spacingAndGlyphs" stroke="#1a1a1a" stroke-width="0.4">15kDa</text>
<line x1="174.40" y1="598.50" x2="181.60" y2="598.50" stroke="#222" stroke-width="1.0" />
<text x="183.00" y="601.40" font-size="7.8" font-weight="bold" textLength="25.00" lengthAdjust="spacingAndGlyphs" stroke="#1a1a1a" stroke-width="0.4">38kDa</text>
</g>
<g id="K">
<text x="217.50" y="493.60" font-size="23.3" fill="#000">K</text>
<text x="307.00" y="483.60" font-size="9.2" font-weight="bold" text-anchor="middle" textLength="26.00" lengthAdjust="spacingAndGlyphs" stroke="#1a1a1a" stroke-width="0.4">CL1-5</text>
<text x="286.30" y="498.60" font-size="8.6" font-weight="bold" text-anchor="middle" textLength="14.60" lengthAdjust="spacingAndGlyphs" stroke="#1a1a1a" stroke-width="0.4">H<tspan font-size="5.6" dy="1.6">2</tspan><tspan dy="-1.6">O</tspan></text>
<text x="327.30" y="498.60" font-size="8.6" font-weight="bold" text-anchor="middle" textLength="37.40" lengthAdjust="spacingAndGlyphs" stroke="#1a1a1a" stroke-width="0.4">1mM NAC</text>
<line x1="268.00" y1="504.30" x2="303.60" y2="504.30" stroke="#333" stroke-width="0.9" />
<line x1="311.00" y1="504.30" x2="347.00" y2="504.30" stroke="#333" stroke-width="0.9" />
<text x="281.00" y="531.00" font-size="6.4" font-weight="bold" transform="rotate(-90 281.00 531.00)" textLength="17.00" lengthAdjust="spacingAndGlyphs" stroke="#1a1a1a" stroke-width="0.15">siNTC</text>
<text x="300.60" y="531.00" font-size="6.4" font-weight="bold" transform="rotate(-90 300.60 531.00)" textLength="23.00" lengthAdjust="spacingAndGlyphs" stroke="#1a1a1a" stroke-width="0.15">siCISD2</text>
<text x="319.00" y="531.00" font-size="6.4" font-weight="bold" transform="rotate(-90 319.00 531.00)" textLength="17.00" lengthAdjust="spacingAndGlyphs" stroke="#1a1a1a" stroke-width="0.15">siNTC</text>
<text x="340.60" y="531.00" font-size="6.4" font-weight="bold" transform="rotate(-90 340.60 531.00)" textLength="23.00" lengthAdjust="spacingAndGlyphs" stroke="#1a1a1a" stroke-width="0.15">siCISD2</text>
<text x="221.00" y="540.60" font-size="8.6" fill="#1c1c1c" textLength="45.00" lengthAdjust="spacingAndGlyphs" stroke="#1c1c1c" stroke-width="0.1">Densitometry</text>
<text x="274.20" y="540.80" font-size="9.8" text-anchor="middle" fill="#1c1c1c" textLength="11.60" lengthAdjust="spacingAndGlyphs" stroke="#1c1c1c" stroke-width="0.2">1.0</text>
<text x="296.70" y="540.80" font-size="9.8" text-anchor="middle" fill="#1c1c1c" textLength="11.60" lengthAdjust="spacingAndGlyphs" stroke="#1c1c1c" stroke-width="0.2">1.8</text>
<text x="318.20" y="540.80" font-size="9.8" text-anchor="middle" fill="#1c1c1c" textLength="11.60" lengthAdjust="spacingAndGlyphs" stroke="#1c1c1c" stroke-width="0.2">1.0</text>
<text x="340.00" y="540.80" font-size="9.8" text-anchor="middle" fill="#1c1c1c" textLength="11.60" lengthAdjust="spacingAndGlyphs" stroke="#1c1c1c" stroke-width="0.2">0.8</text>
<text x="274.20" y="568.90" font-size="9.8" text-anchor="middle" fill="#1c1c1c" textLength="11.60" lengthAdjust="spacingAndGlyphs" stroke="#1c1c1c" stroke-width="0.2">1.0</text>
<text x="296.70" y="568.90" font-size="9.8" text-anchor="middle" fill="#1c1c1c" textLength="11.60" lengthAdjust="spacingAndGlyphs" stroke="#1c1c1c" stroke-width="0.2">0.2</text>
<text x="318.20" y="568.90" font-size="9.8" text-anchor="middle" fill="#1c1c1c" textLength="11.60" lengthAdjust="spacingAndGlyphs" stroke="#1c1c1c" stroke-width="0.2">1.0</text>
<text x="340.00" y="568.90" font-size="9.8" text-anchor="middle" fill="#1c1c1c" textLength="11.60" lengthAdjust="spacingAndGlyphs" stroke="#1c1c1c" stroke-width="0.2">0.1</text>
<text x="263.60" y="555.00" font-size="8.8" font-weight="bold" text-anchor="end" textLength="19.00" lengthAdjust="spacingAndGlyphs" stroke="#1a1a1a" stroke-width="0.4">EGR1</text>
<text x="263.60" y="582.40" font-size="8.8" font-weight="bold" text-anchor="end" textLength="21.00" lengthAdjust="spacingAndGlyphs" stroke="#1a1a1a" stroke-width="0.4">CISD2</text>
<text x="263.60" y="601.00" font-size="8.8" font-weight="bold" text-anchor="end" textLength="26.00" lengthAdjust="spacingAndGlyphs" stroke="#1a1a1a" stroke-width="0.4">GAPDH</text>
<clipPath id="c7"><rect x="265.80" y="544.00" width="82.80" height="16.40"/></clipPath>
<rect x="265.80" y="544.00" width="82.80" height="16.40" fill="#878787" />
<g clip-path="url(#c7)"><g filter="url(#b1)">
<rect x="268.90" y="551.90" width="15.20" height="1.80" rx="0.90" fill="#0d0d0d" opacity="0.55"/>
<rect x="290.40" y="550.80" width="15.20" height="3.20" rx="1.60" fill="#0d0d0d" opacity="0.95"/>
<rect x="311.50" y="551.70" width="14.00" height="1.80" rx="0.90" fill="#0d0d0d" opacity="0.55"/>
<rect x="330.60" y="551.80" width="14.80" height="1.60" rx="0.80" fill="#0d0d0d" opacity="0.42"/>
</g></g>
<clipPath id="c8"><rect x="265.80" y="570.40" width="82.80" height="18.00"/></clipPath>
<rect x="265.80" y="570.40" width="82.80" height="18.00" fill="#828282" />
<g clip-path="url(#c8)"><g filter="url(#b1)">
<rect x="267.60" y="578.80" width="16.80" height="4.40" rx="2.20" fill="#0d0d0d" opacity="1"/>
<rect x="290.50" y="580.90" width="12.00" height="1.40" rx="0.70" fill="#0d0d0d" opacity="0.3"/>
<rect x="308.40" y="578.40" width="17.20" height="4.40" rx="2.20" fill="#0d0d0d" opacity="1"/>
<rect x="331.40" y="580.80" width="11.20" height="1.20" rx="0.60" fill="#0d0d0d" opacity="0.15"/>
</g></g>
<clipPath id="c9"><rect x="265.80" y="590.00" width="82.80" height="18.40"/></clipPath>
<rect x="265.80" y="590.00" width="82.80" height="18.40" fill="#747474" />
<g clip-path="url(#c9)"><g filter="url(#b1)">
<rect x="266.60" y="595.60" width="80.80" height="7.20" rx="3.60" fill="#0d0d0d" opacity="1"/>
<rect x="268.00" y="596.60" width="78.00" height="5.20" rx="2.60" fill="#0d0d0d" opacity="1"/>
</g></g>
<line x1="348.40" y1="551.50" x2="357.00" y2="551.50" stroke="#222" stroke-width="1.0" />
<text x="358.40" y="554.00" font-size="8" font-weight="bold" textLength="24.60" lengthAdjust="spacingAndGlyphs" stroke="#1a1a1a" stroke-width="0.4">75kDa</text>
<line x1="348.40" y1="579.50" x2="357.00" y2="579.50" stroke="#222" stroke-width="1.0" />
<text x="358.40" y="581.60" font-size="8" font-weight="bold" textLength="24.60" lengthAdjust="spacingAndGlyphs" stroke="#1a1a1a" stroke-width="0.4">15kDa</text>
<line x1="348.40" y1="598.50" x2="357.00" y2="598.50" stroke="#222" stroke-width="1.0" />
<text x="358.40" y="600.60" font-size="8" font-weight="bold" textLength="24.60" lengthAdjust="spacingAndGlyphs" stroke="#1a1a1a" stroke-width="0.4">38kDa</text>
</g>
<g id="L">
<text x="22.10" y="646.00" font-size="23.3" fill="#000">L</text>
<text x="67.00" y="645.40" font-size="8.2" font-weight="bold" text-anchor="middle" textLength="25.20" lengthAdjust="spacingAndGlyphs" stroke="#1a1a1a" stroke-width="0.4">H1299</text>
<text x="119.30" y="645.40" font-size="8.2" font-weight="bold" text-anchor="middle" textLength="23.40" lengthAdjust="spacingAndGlyphs" stroke="#1a1a1a" stroke-width="0.4">CL1-0</text>
<text x="172.70" y="645.40" font-size="8.2" font-weight="bold" text-anchor="middle" textLength="23.40" lengthAdjust="spacingAndGlyphs" stroke="#1a1a1a" stroke-width="0.4">CL1-5</text>
<line x1="49.60" y1="649.40" x2="84.00" y2="649.40" stroke="#666" stroke-width="0.8" />
<line x1="102.00" y1="649.40" x2="136.00" y2="649.40" stroke="#666" stroke-width="0.8" />
<line x1="155.60" y1="649.40" x2="189.60" y2="649.40" stroke="#666" stroke-width="0.8" />
<text x="55.70" y="698.60" font-size="8.6" font-weight="bold" transform="rotate(-90 55.70 698.60)" textLength="29.20" lengthAdjust="spacingAndGlyphs" stroke="#1a1a1a" stroke-width="0.4">Control</text>
<text x="108.10" y="698.60" font-size="8.6" font-weight="bold" transform="rotate(-90 108.10 698.60)" textLength="29.20" lengthAdjust="spacingAndGlyphs" stroke="#1a1a1a" stroke-width="0.4">Control</text>
<text x="162.70" y="698.60" font-size="8.6" font-weight="bold" transform="rotate(-90 162.70 698.60)" textLength="29.20" lengthAdjust="spacingAndGlyphs" stroke="#1a1a1a" stroke-width="0.4">Control</text>
<text x="78.80" y="698.60" font-size="8" font-weight="bold" transform="rotate(-90 78.80 698.60)" textLength="47.60" lengthAdjust="spacingAndGlyphs" stroke="#1a1a1a" stroke-width="0.4">100µM H<tspan font-size="5.4" dy="1.4">2</tspan><tspan dy="-1.4">O</tspan><tspan font-size="5.4" dy="1.4">2</tspan></text>
<text x="131.40" y="698.60" font-size="8" font-weight="bold" transform="rotate(-90 131.40 698.60)" textLength="47.60" lengthAdjust="spacingAndGlyphs" stroke="#1a1a1a" stroke-width="0.4">100µM H<tspan font-size="5.4" dy="1.4">2</tspan><tspan dy="-1.4">O</tspan><tspan font-size="5.4" dy="1.4">2</tspan></text>
<text x="185.80" y="698.60" font-size="8" font-weight="bold" transform="rotate(-90 185.80 698.60)" textLength="47.60" lengthAdjust="spacingAndGlyphs" stroke="#1a1a1a" stroke-width="0.4">100µM H<tspan font-size="5.4" dy="1.4">2</tspan><tspan dy="-1.4">O</tspan><tspan font-size="5.4" dy="1.4">2</tspan></text>
<text x="-1.00" y="711.40" font-size="8.4" fill="#1c1c1c" textLength="45.40" lengthAdjust="spacingAndGlyphs" stroke="#1c1c1c" stroke-width="0.1">Densitometry</text>
<text x="53.70" y="713.20" font-size="8.6" text-anchor="middle" fill="#1c1c1c" textLength="11.40" lengthAdjust="spacingAndGlyphs" stroke="#1c1c1c" stroke-width="0.2">1.0</text>
<text x="80.50" y="713.20" font-size="8.6" text-anchor="middle" fill="#1c1c1c" textLength="21.00" lengthAdjust="spacingAndGlyphs" stroke="#1c1c1c" stroke-width="0.2">170.8</text>
<text x="106.50" y="713.20" font-size="8.6" text-anchor="middle" fill="#1c1c1c" textLength="11.20" lengthAdjust="spacingAndGlyphs" stroke="#1c1c1c" stroke-width="0.2">1.0</text>
<text x="133.30" y="713.20" font-size="8.6" text-anchor="middle" fill="#1c1c1c" textLength="11.40" lengthAdjust="spacingAndGlyphs" stroke="#1c1c1c" stroke-width="0.2">3.2</text>
<text x="159.80" y="713.20" font-size="8.6" text-anchor="middle" fill="#1c1c1c" textLength="11.60" lengthAdjust="spacingAndGlyphs" stroke="#1c1c1c" stroke-width="0.2">1.0</text>
<text x="186.70" y="713.20" font-size="8.6" text-anchor="middle" fill="#1c1c1c" textLength="11.40" lengthAdjust="spacingAndGlyphs" stroke="#1c1c1c" stroke-width="0.2">1.9</text>
<text x="53.70" y="742.70" font-size="8.6" text-anchor="middle" fill="#1c1c1c" textLength="11.40" lengthAdjust="spacingAndGlyphs" stroke="#1c1c1c" stroke-width="0.2">1.0</text>
<text x="80.50" y="742.70" font-size="8.6" text-anchor="middle" fill="#1c1c1c" textLength="11.40" lengthAdjust="spacingAndGlyphs" stroke="#1c1c1c" stroke-width="0.2">0.9</text>
<text x="106.50" y="742.70" font-size="8.6" text-anchor="middle" fill="#1c1c1c" textLength="11.20" lengthAdjust="spacingAndGlyphs" stroke="#1c1c1c" stroke-width="0.2">1.0</text>
<text x="133.30" y="742.70" font-size="8.6" text-anchor="middle" fill="#1c1c1c" textLength="11.40" lengthAdjust="spacingAndGlyphs" stroke="#1c1c1c" stroke-width="0.2">0.8</text>
<text x="159.80" y="742.70" font-size="8.6" text-anchor="middle" fill="#1c1c1c" textLength="11.60" lengthAdjust="spacingAndGlyphs" stroke="#1c1c1c" stroke-width="0.2">1.0</text>
<text x="186.70" y="742.70" font-size="8.6" text-anchor="middle" fill="#1c1c1c" textLength="11.40" lengthAdjust="spacingAndGlyphs" stroke="#1c1c1c" stroke-width="0.2">0.4</text>
<text x="42.40" y="728.00" font-size="9.2" font-weight="bold" text-anchor="end" textLength="24.80" lengthAdjust="spacingAndGlyphs" stroke="#1a1a1a" stroke-width="0.4">EGR1</text>
<text x="42.40" y="756.00" font-size="9.2" font-weight="bold" text-anchor="end" textLength="26.00" lengthAdjust="spacingAndGlyphs" stroke="#1a1a1a" stroke-width="0.4">CISD2</text>
<text x="42.40" y="777.00" font-size="9.2" font-weight="bold" text-anchor="end" textLength="31.40" lengthAdjust="spacingAndGlyphs" stroke="#1a1a1a" stroke-width="0.4">GAPDH</text>
<clipPath id="c10"><rect x="43.40" y="713.00" width="46.60" height="21.00"/></clipPath>
<rect x="43.40" y="713.00" width="46.60" height="21.00" fill="#8a8a8a" />
<g clip-path="url(#c10)"><g filter="url(#b1)">
<rect x="71.00" y="721.60" width="16.40" height="6.40" rx="3.20" fill="#0d0d0d" opacity="0.9"/>
</g></g>
<clipPath id="c11"><rect x="43.40" y="742.80" width="46.60" height="20.20"/></clipPath>
<rect x="43.40" y="742.80" width="46.60" height="20.20" fill="#7e7e7e" />
<g clip-path="url(#c11)"><g filter="url(#b1)">
<rect x="45.80" y="750.20" width="19.00" height="5.60" rx="2.80" fill="#0d0d0d" opacity="1"/>
<rect x="70.50" y="750.30" width="18.00" height="4.60" rx="2.30" fill="#0d0d0d" opacity="0.85"/>
</g></g>
<clipPath id="c12"><rect x="43.40" y="764.40" width="46.60" height="21.00"/></clipPath>
<rect x="43.40" y="764.40" width="46.60" height="21.00" fill="#7c7c7c" />
<g clip-path="url(#c12)"><g filter="url(#b1)">
<rect x="47.00" y="771.80" width="19.00" height="4.40" rx="2.20" fill="#0d0d0d" opacity="1"/>
<rect x="70.00" y="772.00" width="18.00" height="4.00" rx="2.00" fill="#0d0d0d" opacity="1"/>
<rect x="49.00" y="773.10" width="36.00" height="1.80" rx="0.90" fill="#0d0d0d" opacity="0.5"/>
</g></g>
<clipPath id="c13"><rect x="96.00" y="713.00" width="46.40" height="21.00"/></clipPath>
<rect x="96.00" y="713.00" width="46.40" height="21.00" fill="#8e8e8e" />
<g clip-path="url(#c13)"><g filter="url(#b1)">
<rect x="98.50" y="722.80" width="16.00" height="2.40" rx="1.20" fill="#0d0d0d" opacity="0.4"/>
<rect x="120.50" y="721.90" width="17.00" height="3.40" rx="1.70" fill="#0d0d0d" opacity="0.65"/>
</g></g>
<clipPath id="c14"><rect x="96.00" y="742.80" width="46.40" height="20.20"/></clipPath>
<rect x="96.00" y="742.80" width="46.40" height="20.20" fill="#7a7a7a" />
<g clip-path="url(#c14)"><g filter="url(#b1)">
<rect x="98.00" y="749.70" width="18.00" height="4.60" rx="2.30" fill="#0d0d0d" opacity="1"/>
<rect x="120.50" y="750.20" width="17.00" height="4.00" rx="2.00" fill="#0d0d0d" opacity="0.9"/>
</g></g>
<clipPath id="c15"><rect x="96.00" y="764.40" width="46.40" height="21.00"/></clipPath>
<rect x="96.00" y="764.40" width="46.40" height="21.00" fill="#6a6a6a" />
<g clip-path="url(#c15)"><g filter="url(#b1)">
<rect x="95.00" y="770.70" width="48.00" height="7.80" rx="3.90" fill="#0d0d0d" opacity="1"/>
<rect x="97.00" y="771.70" width="44.00" height="5.80" rx="2.90" fill="#0d0d0d" opacity="1"/>
</g></g>
<clipPath id="c16"><rect x="149.00" y="713.00" width="47.00" height="21.00"/></clipPath>
<rect x="149.00" y="713.00" width="47.00" height="21.00" fill="#858585" />
<g clip-path="url(#c16)"><g filter="url(#b1)">
<rect x="152.00" y="720.20" width="18.00" height="6.40" rx="3.20" fill="#0d0d0d" opacity="1"/>
<rect x="173.00" y="718.40" width="21.00" height="10.00" rx="5.00" fill="#0d0d0d" opacity="1"/>
<rect x="175.50" y="720.40" width="16.00" height="6.00" rx="3.00" fill="#0d0d0d" opacity="1"/>
</g></g>
<clipPath id="c17"><rect x="149.00" y="742.80" width="47.00" height="20.20"/></clipPath>
<rect x="149.00" y="742.80" width="47.00" height="20.20" fill="#828282" />
<g clip-path="url(#c17)"><g filter="url(#b1)">
<rect x="151.50" y="749.40" width="17.00" height="6.40" rx="3.20" fill="#0d0d0d" opacity="1"/>
<rect x="175.00" y="750.70" width="17.00" height="3.40" rx="1.70" fill="#0d0d0d" opacity="0.8"/>
</g></g>
<clipPath id="c18"><rect x="149.00" y="764.40" width="47.00" height="21.00"/></clipPath>
<rect x="149.00" y="764.40" width="47.00" height="21.00" fill="#7a7a7a" />
<g clip-path="url(#c18)"><g filter="url(#b1)">
<rect x="151.00" y="771.50" width="20.00" height="5.80" rx="2.90" fill="#0d0d0d" opacity="1"/>
<rect x="174.00" y="771.30" width="20.00" height="5.40" rx="2.70" fill="#0d0d0d" opacity="1"/>
<rect x="154.00" y="773.20" width="36.00" height="2.40" rx="1.20" fill="#0d0d0d" opacity="0.6"/>
</g></g>
<line x1="197.00" y1="723.50" x2="205.00" y2="723.50" stroke="#222" stroke-width="1.0" />
<text x="206.00" y="725.60" font-size="7.8" font-weight="bold" textLength="25.00" lengthAdjust="spacingAndGlyphs" stroke="#1a1a1a" stroke-width="0.4">75kDa</text>
<line x1="197.00" y1="752.50" x2="205.00" y2="752.50" stroke="#222" stroke-width="1.0" />
<text x="206.00" y="754.60" font-size="7.8" font-weight="bold" textLength="25.00" lengthAdjust="spacingAndGlyphs" stroke="#1a1a1a" stroke-width="0.4">15kDa</text>
<line x1="197.00" y1="773.50" x2="205.00" y2="773.50" stroke="#222" stroke-width="1.0" />
<text x="206.00" y="776.00" font-size="7.8" font-weight="bold" textLength="25.00" lengthAdjust="spacingAndGlyphs" stroke="#1a1a1a" stroke-width="0.4">38kDa</text>
</g>
<g id="N">
<text x="468.90" y="484.00" font-size="23.3" fill="#000">N</text>
<text x="567.30" y="468.00" font-size="9" font-weight="bold" text-anchor="middle" textLength="27.40" lengthAdjust="spacingAndGlyphs" stroke="#1a1a1a" stroke-width="0.4">H1299</text>
<line x1="522.00" y1="472.50" x2="609.00" y2="472.50" stroke="#3a3a3a" stroke-width="1.0" />
<text x="531.40" y="528.00" font-size="10.2" font-weight="bold" transform="rotate(-90 531.40 528.00)" textLength="49.00" lengthAdjust="spacingAndGlyphs" stroke="#1a1a1a" stroke-width="0.4">Control#1</text>
<text x="557.80" y="528.00" font-size="10.2" font-weight="bold" transform="rotate(-90 557.80 528.00)" textLength="53.00" lengthAdjust="spacingAndGlyphs" stroke="#1a1a1a" stroke-width="0.4">CISD2(-)#1</text>
<text x="584.40" y="528.00" font-size="10.2" font-weight="bold" transform="rotate(-90 584.40 528.00)" textLength="49.00" lengthAdjust="spacingAndGlyphs" stroke="#1a1a1a" stroke-width="0.4">Control#2</text>
<text x="610.20" y="528.00" font-size="10.2" font-weight="bold" transform="rotate(-90 610.20 528.00)" textLength="54.00" lengthAdjust="spacingAndGlyphs" stroke="#1a1a1a" stroke-width="0.4">CISD2(-)#2</text>
<text x="468.40" y="537.00" font-size="8.4" fill="#1c1c1c" textLength="46.60" lengthAdjust="spacingAndGlyphs" stroke="#1c1c1c" stroke-width="0.1">Densitometry</text>
<text x="527.80" y="538.00" font-size="8.6" text-anchor="middle" fill="#1c1c1c" textLength="11.20" lengthAdjust="spacingAndGlyphs" stroke="#1c1c1c" stroke-width="0.2">1.0</text>
<text x="554.30" y="538.00" font-size="8.6" text-anchor="middle" fill="#1c1c1c" textLength="11.20" lengthAdjust="spacingAndGlyphs" stroke="#1c1c1c" stroke-width="0.2">1.2</text>
<text x="580.60" y="538.00" font-size="8.6" text-anchor="middle" fill="#1c1c1c" textLength="11.20" lengthAdjust="spacingAndGlyphs" stroke="#1c1c1c" stroke-width="0.2">1.0</text>
<text x="606.80" y="538.00" font-size="8.6" text-anchor="middle" fill="#1c1c1c" textLength="11.20" lengthAdjust="spacingAndGlyphs" stroke="#1c1c1c" stroke-width="0.2">1.3</text>
<text x="527.80" y="563.60" font-size="8.6" text-anchor="middle" fill="#1c1c1c" textLength="11.20" lengthAdjust="spacingAndGlyphs" stroke="#1c1c1c" stroke-width="0.2">1.0</text>
<text x="554.30" y="563.60" font-size="8.6" text-anchor="middle" fill="#1c1c1c" textLength="11.20" lengthAdjust="spacingAndGlyphs" stroke="#1c1c1c" stroke-width="0.2">1.2</text>
<text x="580.60" y="563.60" font-size="8.6" text-anchor="middle" fill="#1c1c1c" textLength="11.20" lengthAdjust="spacingAndGlyphs" stroke="#1c1c1c" stroke-width="0.2">1.0</text>
<text x="606.80" y="563.60" font-size="8.6" text-anchor="middle" fill="#1c1c1c" textLength="11.20" lengthAdjust="spacingAndGlyphs" stroke="#1c1c1c" stroke-width="0.2">1.2</text>
<text x="527.80" y="600.00" font-size="8.6" text-anchor="middle" fill="#1c1c1c" textLength="11.20" lengthAdjust="spacingAndGlyphs" stroke="#1c1c1c" stroke-width="0.2">1.0</text>
<text x="554.30" y="600.00" font-size="8.6" text-anchor="middle" fill="#1c1c1c" textLength="11.20" lengthAdjust="spacingAndGlyphs" stroke="#1c1c1c" stroke-width="0.2">0.4</text>
<text x="580.60" y="600.00" font-size="8.6" text-anchor="middle" fill="#1c1c1c" textLength="11.20" lengthAdjust="spacingAndGlyphs" stroke="#1c1c1c" stroke-width="0.2">1.0</text>
<text x="606.80" y="600.00" font-size="8.6" text-anchor="middle" fill="#1c1c1c" textLength="11.20" lengthAdjust="spacingAndGlyphs" stroke="#1c1c1c" stroke-width="0.2">0.4</text>
<text x="507.00" y="550.60" font-size="9.2" font-weight="bold" text-anchor="end" textLength="26.00" lengthAdjust="spacingAndGlyphs" stroke="#1a1a1a" stroke-width="0.4">EGR1</text>
<text x="507.00" y="580.00" font-size="9.2" font-weight="bold" text-anchor="end" textLength="25.00" lengthAdjust="spacingAndGlyphs" stroke="#1a1a1a" stroke-width="0.4">PTEN</text>
<text x="505.40" y="614.00" font-size="9.2" font-weight="bold" text-anchor="end" textLength="49.80" lengthAdjust="spacingAndGlyphs" stroke="#1a1a1a" stroke-width="0.4">pAKT-S473</text>
<text x="508.40" y="638.40" font-size="9.2" font-weight="bold" text-anchor="end" textLength="24.00" lengthAdjust="spacingAndGlyphs" stroke="#1a1a1a" stroke-width="0.4">AKT1</text>
<text x="508.00" y="666.00" font-size="9.2" font-weight="bold" text-anchor="end" textLength="27.60" lengthAdjust="spacingAndGlyphs" stroke="#1a1a1a" stroke-width="0.4">CISD2</text>
<text x="508.00" y="682.40" font-size="9.2" font-weight="bold" text-anchor="end" textLength="34.40" lengthAdjust="spacingAndGlyphs" stroke="#1a1a1a" stroke-width="0.4">GAPDH</text>
<clipPath id="c19"><rect x="514.00" y="538.00" width="105.60" height="17.00"/></clipPath>
<rect x="514.00" y="538.00" width="105.60" height="17.00" fill="#898989" />
<g clip-path="url(#c19)"><g filter="url(#b1)">
<rect x="518.00" y="546.10" width="19.00" height="1.80" rx="0.90" fill="#0d0d0d" opacity="0.32"/>
<rect x="545.00" y="544.75" width="20.00" height="2.50" rx="1.25" fill="#0d0d0d" opacity="0.72"/>
<rect x="574.00" y="545.70" width="14.00" height="1.80" rx="0.90" fill="#0d0d0d" opacity="0.15"/>
<rect x="597.00" y="544.40" width="21.00" height="3.20" rx="1.60" fill="#0d0d0d" opacity="0.9"/>
</g></g>
<clipPath id="c20"><rect x="515.40" y="565.40" width="105.00" height="23.20"/></clipPath>
<rect x="515.40" y="565.40" width="105.00" height="23.20" fill="#8a8a8a" />
<g clip-path="url(#c20)"><g filter="url(#b1)">
<rect x="520.00" y="574.40" width="17.00" height="4.00" rx="2.00" fill="#0d0d0d" opacity="0.6"/>
<rect x="546.00" y="574.10" width="18.00" height="4.60" rx="2.30" fill="#0d0d0d" opacity="0.85"/>
<rect x="572.00" y="575.40" width="17.00" height="3.20" rx="1.60" fill="#0d0d0d" opacity="0.38"/>
<rect x="597.00" y="575.00" width="17.00" height="3.60" rx="1.80" fill="#0d0d0d" opacity="0.48"/>
</g></g>
<clipPath id="c21"><rect x="515.40" y="600.50" width="105.00" height="21.60"/></clipPath>
<rect x="515.40" y="600.50" width="105.00" height="21.60" fill="#838383" />
<g clip-path="url(#c21)"><g filter="url(#b2)">
<rect x="519.00" y="611.50" width="19.00" height="3.00" rx="1.50" fill="#0d0d0d" opacity="0.85"/>
<rect x="546.00" y="611.00" width="16.00" height="2.00" rx="1.00" fill="#0d0d0d" opacity="0.25"/>
<rect x="572.00" y="609.80" width="18.00" height="2.80" rx="1.40" fill="#0d0d0d" opacity="0.88"/>
<rect x="598.00" y="609.90" width="14.00" height="2.20" rx="1.10" fill="#0d0d0d" opacity="0.4"/>
<rect x="570.30" y="601.30" width="2.20" height="2.20" rx="1.10" fill="#0d0d0d" opacity="1"/>
<rect x="580.30" y="601.10" width="3.00" height="2.60" rx="1.30" fill="#0d0d0d" opacity="1"/>
<rect x="570.40" y="601.40" width="2.00" height="2.00" rx="1.00" fill="#0d0d0d" opacity="1"/>
<rect x="580.40" y="601.20" width="2.80" height="2.40" rx="1.20" fill="#0d0d0d" opacity="1"/>
<rect x="603.00" y="621.10" width="4.00" height="1.00" rx="0.50" fill="#0d0d0d" opacity="0.6"/>
</g></g>
<clipPath id="c22"><rect x="515.40" y="624.40" width="105.00" height="23.20"/></clipPath>
<rect x="515.40" y="624.40" width="105.00" height="23.20" fill="#7e7e7e" />
<g clip-path="url(#c22)"><g filter="url(#b1)">
<rect x="519.00" y="634.40" width="20.00" height="5.20" rx="2.60" fill="#0d0d0d" opacity="1"/>
<rect x="546.00" y="633.10" width="19.00" height="5.00" rx="2.50" fill="#0d0d0d" opacity="1"/>
<rect x="571.50" y="631.80" width="19.00" height="4.80" rx="2.40" fill="#0d0d0d" opacity="1"/>
<rect x="597.50" y="630.90" width="18.00" height="4.20" rx="2.10" fill="#0d0d0d" opacity="1"/>
</g></g>
<clipPath id="c23"><rect x="515.40" y="650.00" width="105.00" height="23.80"/></clipPath>
<rect x="515.40" y="650.00" width="105.00" height="23.80" fill="#848484" />
<g clip-path="url(#c23)"><g filter="url(#b1)">
<rect x="521.00" y="661.20" width="17.00" height="3.60" rx="1.80" fill="#0d0d0d" opacity="0.4"/>
<rect x="547.00" y="661.70" width="14.00" height="2.60" rx="1.30" fill="#0d0d0d" opacity="0.18"/>
<rect x="573.50" y="659.90" width="17.00" height="3.00" rx="1.50" fill="#0d0d0d" opacity="0.7"/>
</g></g>
<clipPath id="c24"><rect x="515.40" y="675.60" width="105.00" height="24.00"/></clipPath>
<rect x="515.40" y="675.60" width="105.00" height="24.00" fill="#727272" />
<g clip-path="url(#c24)"><g filter="url(#b1)">
<rect x="518.00" y="685.60" width="23.00" height="6.80" rx="3.40" fill="#0d0d0d" opacity="1"/>
<rect x="544.00" y="685.60" width="23.00" height="6.80" rx="3.40" fill="#0d0d0d" opacity="1"/>
<rect x="571.50" y="685.40" width="21.00" height="6.00" rx="3.00" fill="#0d0d0d" opacity="1"/>
<rect x="596.50" y="684.40" width="20.00" height="6.00" rx="3.00" fill="#0d0d0d" opacity="1"/>
<rect x="515.00" y="687.60" width="80.00" height="2.80" rx="1.40" fill="#0d0d0d" opacity="0.8"/>
</g></g>
<line x1="620.00" y1="546.50" x2="627.60" y2="546.50" stroke="#222" stroke-width="1.0" />
<text x="628.00" y="548.60" font-size="7.8" font-weight="bold" textLength="24.40" lengthAdjust="spacingAndGlyphs" stroke="#1a1a1a" stroke-width="0.4">75kDa</text>
<line x1="621.00" y1="575.50" x2="628.00" y2="575.50" stroke="#222" stroke-width="1.0" />
<text x="629.00" y="578.00" font-size="7.8" font-weight="bold" textLength="24.00" lengthAdjust="spacingAndGlyphs" stroke="#1a1a1a" stroke-width="0.4">54kDa</text>
<line x1="621.00" y1="610.50" x2="627.60" y2="610.50" stroke="#222" stroke-width="1.0" />
<text x="629.00" y="612.40" font-size="7.8" font-weight="bold" textLength="24.00" lengthAdjust="spacingAndGlyphs" stroke="#1a1a1a" stroke-width="0.4">60kDa</text>
<line x1="621.00" y1="633.50" x2="628.00" y2="633.50" stroke="#222" stroke-width="1.0" />
<text x="630.00" y="636.00" font-size="7.8" font-weight="bold" textLength="24.00" lengthAdjust="spacingAndGlyphs" stroke="#1a1a1a" stroke-width="0.4">60kDa</text>
<line x1="621.00" y1="662.50" x2="628.40" y2="662.50" stroke="#222" stroke-width="1.0" />
<text x="629.00" y="665.40" font-size="7.8" font-weight="bold" textLength="24.00" lengthAdjust="spacingAndGlyphs" stroke="#1a1a1a" stroke-width="0.4">15kDa</text>
<line x1="621.00" y1="685.50" x2="628.00" y2="685.50" stroke="#222" stroke-width="1.0" />
<text x="630.00" y="687.60" font-size="7.8" font-weight="bold" textLength="24.00" lengthAdjust="spacingAndGlyphs" stroke="#1a1a1a" stroke-width="0.4">38kDa</text>
</g>
<g id="M">
<text x="237.90" y="645.10" font-size="24" fill="#000">M</text>
<line x1="288.00" y1="676.20" x2="288.00" y2="770.00" stroke="#222" stroke-width="1.3" />
<line x1="285.60" y1="770.00" x2="288.00" y2="770.00" stroke="#222" stroke-width="1.1" />
<text x="284.60" y="772.60" font-size="7.8" font-weight="bold" text-anchor="end" stroke="#1a1a1a" stroke-width="0.3">-2</text>
<line x1="285.60" y1="754.50" x2="288.00" y2="754.50" stroke="#222" stroke-width="1.1" />
<text x="284.60" y="757.10" font-size="7.8" font-weight="bold" text-anchor="end" stroke="#1a1a1a" stroke-width="0.3">-1</text>
<line x1="285.60" y1="739.00" x2="288.00" y2="739.00" stroke="#222" stroke-width="1.1" />
<text x="284.60" y="741.60" font-size="7.8" font-weight="bold" text-anchor="end" stroke="#1a1a1a" stroke-width="0.3">0</text>
<line x1="285.60" y1="723.50" x2="288.00" y2="723.50" stroke="#222" stroke-width="1.1" />
<text x="284.60" y="726.10" font-size="7.8" font-weight="bold" text-anchor="end" stroke="#1a1a1a" stroke-width="0.3">1</text>
<line x1="285.60" y1="708.00" x2="288.00" y2="708.00" stroke="#222" stroke-width="1.1" />
<text x="284.60" y="710.60" font-size="7.8" font-weight="bold" text-anchor="end" stroke="#1a1a1a" stroke-width="0.3">2</text>
<line x1="285.60" y1="692.50" x2="288.00" y2="692.50" stroke="#222" stroke-width="1.1" />
<text x="284.60" y="695.10" font-size="7.8" font-weight="bold" text-anchor="end" stroke="#1a1a1a" stroke-width="0.3">3</text>
<line x1="285.60" y1="677.00" x2="288.00" y2="677.00" stroke="#222" stroke-width="1.1" />
<text x="284.60" y="679.60" font-size="7.8" font-weight="bold" text-anchor="end" stroke="#1a1a1a" stroke-width="0.3">4</text>
<line x1="288.00" y1="738.90" x2="428.00" y2="738.90" stroke="#2a2a2a" stroke-width="1.1" />
<text x="255.40" y="721.50" font-size="8.8" font-weight="bold" text-anchor="middle" transform="rotate(-90 255.40 721.50)" textLength="103.00" lengthAdjust="spacingAndGlyphs" stroke="#1a1a1a" stroke-width="0.4">Fold change of RNA level</text>
<text x="268.40" y="721.80" font-size="8.8" font-weight="bold" text-anchor="middle" transform="rotate(-90 268.40 721.80)" textLength="46.40" lengthAdjust="spacingAndGlyphs" stroke="#1a1a1a" stroke-width="0.4">(Log<tspan font-size="5.6" dy="1.4">2</tspan><tspan dy="-1.4"> ratio)</tspan></text>
<rect x="296.60" y="739.00" width="12.00" height="16.60" fill="#1a1a1a" />
<line x1="319.80" y1="690.40" x2="319.80" y2="689.80" stroke="#1a1a1a" stroke-width="0.9" />
<line x1="316.00" y1="689.90" x2="323.60" y2="689.90" stroke="#1a1a1a" stroke-width="0.9" />
<rect x="314.10" y="690.60" width="11.40" height="48.40" fill="#fff" stroke="#1a1a1a" stroke-width="1" />
<rect x="342.60" y="739.00" width="12.40" height="3.80" fill="#1a1a1a" />
<line x1="366.30" y1="734.00" x2="366.30" y2="732.10" stroke="#1a1a1a" stroke-width="1.2" />
<line x1="362.80" y1="732.10" x2="369.80" y2="732.10" stroke="#1a1a1a" stroke-width="1.2" />
<rect x="360.50" y="734.20" width="11.60" height="4.80" fill="#fff" stroke="#1a1a1a" stroke-width="1" />
<rect x="389.00" y="739.00" width="12.60" height="2.80" fill="#1a1a1a" />
<rect x="406.80" y="736.90" width="12.20" height="1.70" fill="#2a2a2a" rx="0.8"/>
<line x1="409.60" y1="736.60" x2="416.00" y2="736.60" stroke="#1a1a1a" stroke-width="0.9" />
<rect x="380.00" y="681.60" width="11.00" height="6.00" fill="#1a1a1a" />
<rect x="380.60" y="692.90" width="9.80" height="4.80" fill="#fff" stroke="#1a1a1a" stroke-width="1.25" />
<text x="396.40" y="687.40" font-size="6.6" font-weight="bold" textLength="18.60" lengthAdjust="spacingAndGlyphs" stroke="#1a1a1a" stroke-width="0.1">CISD2</text>
<text x="396.40" y="697.80" font-size="6.6" font-weight="bold" textLength="16.60" lengthAdjust="spacingAndGlyphs" stroke="#1a1a1a" stroke-width="0.1">EGR1</text>
<text x="311.20" y="783.40" font-size="9.2" font-weight="bold" text-anchor="middle" textLength="25.00" lengthAdjust="spacingAndGlyphs" stroke="#1a1a1a" stroke-width="0.4">H1299</text>
<text x="358.80" y="783.40" font-size="9.2" font-weight="bold" text-anchor="middle" textLength="22.40" lengthAdjust="spacingAndGlyphs" stroke="#1a1a1a" stroke-width="0.4">CL1-0</text>
<text x="404.60" y="783.40" font-size="9.2" font-weight="bold" text-anchor="middle" textLength="23.00" lengthAdjust="spacingAndGlyphs" stroke="#1a1a1a" stroke-width="0.4">CL1-5</text>
</g>
</g>
</svg>
</body></html>
